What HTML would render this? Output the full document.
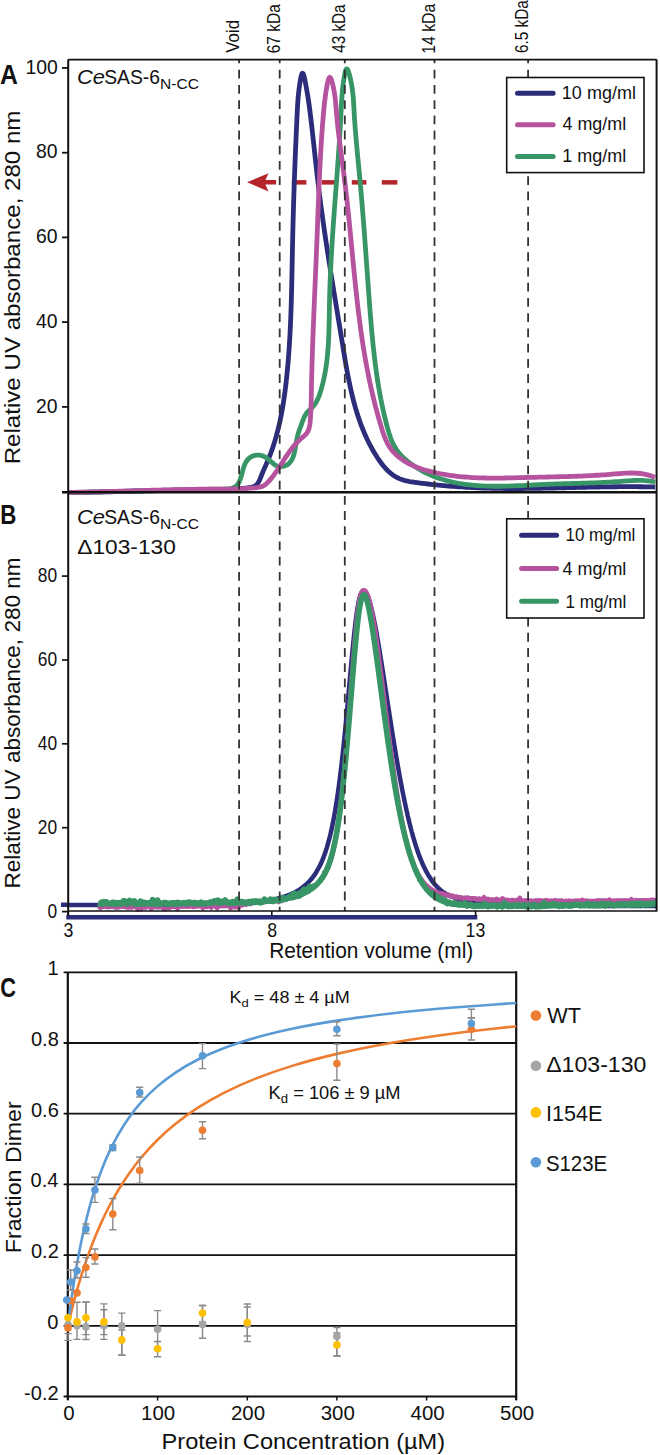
<!DOCTYPE html><html><head><meta charset="utf-8"><style>html,body{margin:0;padding:0;background:#fff;width:660px;height:1455px;overflow:hidden}svg{display:block}</style></head><body>
<svg width="660" height="1455" viewBox="0 0 660 1455">
<rect width="660" height="1455" fill="#fff"/>
<path d="M247,182.3 L268.6,173.2 L265.4,180.1 L276.1,180.1 L276.1,184.6 L265.4,184.6 L268.6,191.4 Z" fill="#b3252b"/>
<rect x="291.8" y="180.1" width="14.6" height="4.5" fill="#b3252b"/>
<rect x="321.8" y="180.1" width="14.6" height="4.5" fill="#b3252b"/>
<rect x="351.8" y="180.1" width="14.6" height="4.5" fill="#b3252b"/>
<rect x="381.8" y="180.1" width="15.5" height="4.5" fill="#b3252b"/>
<g fill="none" stroke-linejoin="round" stroke-linecap="butt" stroke-width="4.8">
<path d="M68.00,492.60 L70.58,492.56 L73.17,492.53 L75.75,492.49 L78.34,492.45 L80.92,492.40 L83.50,492.36 L86.09,492.31 L88.67,492.26 L91.25,492.21 L93.83,492.16 L96.41,492.11 L98.99,492.05 L101.57,491.99 L104.15,491.94 L106.73,491.88 L109.31,491.82 L111.89,491.76 L114.47,491.70 L117.05,491.64 L119.63,491.57 L122.21,491.51 L124.79,491.45 L127.37,491.38 L129.94,491.32 L132.52,491.25 L135.10,491.19 L137.68,491.13 L140.26,491.06 L142.84,491.00 L145.42,490.93 L148.00,490.87 L150.57,490.81 L153.15,490.74 L155.73,490.68 L158.31,490.62 L160.89,490.56 L163.47,490.50 L166.05,490.44 L168.63,490.38 L171.21,490.33 L173.79,490.27 L176.37,490.22 L178.96,490.17 L181.54,490.11 L184.12,490.07 L186.70,490.02 L189.28,489.97 L191.87,489.93 L194.45,489.89 L197.04,489.85 L199.62,489.81 L202.21,489.77 L204.79,489.74 L207.38,489.71 L209.96,489.68 L212.55,489.66 L215.14,489.63 L217.73,489.60 L220.32,489.56 L222.90,489.51 L225.49,489.45 L228.08,489.37 L230.67,489.27 L233.26,489.14 L235.85,488.99 L238.43,488.81 L241.02,488.59 L243.61,488.34 L246.19,488.04 L248.78,487.70 L251.35,487.31 L253.77,486.67 L255.77,485.50 L257.40,483.83 L258.73,481.78 L259.85,479.46 L260.85,476.99 L261.82,474.48 L262.82,472.02 L263.85,469.61 L264.91,467.23 L265.96,464.88 L266.99,462.53 L268.00,460.17 L268.97,457.80 L269.91,455.42 L270.82,453.02 L271.70,450.61 L272.54,448.19 L273.36,445.76 L274.15,443.31 L274.90,440.86 L275.63,438.40 L276.34,435.92 L277.01,433.44 L277.66,430.95 L278.29,428.45 L278.89,425.94 L279.47,423.43 L280.02,420.91 L280.55,418.38 L281.07,415.85 L281.56,413.31 L282.03,410.76 L282.48,408.21 L282.91,405.66 L283.32,403.10 L283.72,400.54 L284.10,397.97 L284.47,395.40 L284.82,392.83 L285.16,390.26 L285.48,387.69 L285.79,385.12 L286.09,382.54 L286.37,379.97 L286.65,377.39 L286.91,374.82 L287.17,372.25 L287.42,369.68 L287.65,367.11 L287.88,364.54 L288.10,361.97 L288.31,359.40 L288.52,356.83 L288.71,354.26 L288.90,351.70 L289.08,349.13 L289.25,346.56 L289.42,344.00 L289.57,341.43 L289.73,338.87 L289.87,336.30 L290.01,333.74 L290.14,331.17 L290.27,328.61 L290.39,326.04 L290.50,323.48 L290.61,320.91 L290.72,318.35 L290.82,315.78 L290.91,313.21 L291.01,310.65 L291.09,308.08 L291.18,305.51 L291.26,302.94 L291.33,300.37 L291.40,297.80 L291.47,295.23 L291.54,292.66 L291.60,290.09 L291.67,287.52 L291.73,284.95 L291.78,282.37 L291.84,279.79 L291.89,277.22 L291.95,274.64 L292.00,272.06 L292.05,269.48 L292.10,266.90 L292.15,264.32 L292.20,261.73 L292.25,259.15 L292.30,256.56 L292.35,253.97 L292.40,251.38 L292.45,248.79 L292.51,246.19 L292.56,243.60 L292.62,241.00 L292.67,238.40 L292.73,235.80 L292.79,233.20 L292.86,230.59 L292.92,227.99 L292.99,225.38 L293.05,222.77 L293.12,220.17 L293.19,217.56 L293.27,214.95 L293.34,212.34 L293.42,209.73 L293.49,207.12 L293.57,204.52 L293.65,201.91 L293.73,199.30 L293.81,196.70 L293.90,194.09 L293.98,191.49 L294.07,188.89 L294.16,186.29 L294.25,183.69 L294.34,181.10 L294.43,178.51 L294.53,175.92 L294.62,173.33 L294.72,170.74 L294.81,168.16 L294.91,165.58 L295.01,163.01 L295.11,160.44 L295.21,157.87 L295.32,155.31 L295.42,152.75 L295.53,150.19 L295.63,147.64 L295.74,145.09 L295.85,142.55 L295.96,140.02 L296.07,137.49 L296.18,134.96 L296.29,132.44 L296.40,129.93 L296.52,127.42 L296.63,124.92 L296.75,122.42 L296.86,119.93 L296.98,117.45 L297.10,114.98 L297.22,112.51 L297.34,110.05 L297.47,107.57 L297.61,105.08 L297.77,102.55 L297.96,99.96 L298.18,97.31 L298.44,94.57 L298.74,91.73 L299.09,88.79 L299.51,85.71 L299.98,82.50 L300.53,79.24 L301.13,76.32 L301.77,74.16 L302.45,73.17 L303.15,73.71 L303.87,75.60 L304.57,78.40 L305.24,81.67 L305.86,85.00 L306.43,88.13 L306.95,91.07 L307.42,93.85 L307.85,96.48 L308.25,99.00 L308.61,101.42 L308.95,103.77 L309.27,106.07 L309.58,108.35 L309.87,110.63 L310.16,112.92 L310.45,115.25 L310.73,117.61 L311.02,120.01 L311.30,122.43 L311.59,124.88 L311.87,127.35 L312.15,129.85 L312.43,132.37 L312.72,134.92 L313.00,137.48 L313.28,140.06 L313.56,142.66 L313.85,145.27 L314.13,147.90 L314.42,150.53 L314.71,153.18 L314.99,155.84 L315.28,158.50 L315.58,161.17 L315.87,163.84 L316.17,166.52 L316.47,169.19 L316.77,171.87 L317.07,174.54 L317.38,177.21 L317.69,179.87 L318.01,182.53 L318.33,185.18 L318.65,187.82 L318.97,190.45 L319.30,193.08 L319.63,195.70 L319.97,198.32 L320.31,200.93 L320.65,203.53 L320.99,206.13 L321.34,208.72 L321.69,211.31 L322.04,213.89 L322.39,216.47 L322.75,219.04 L323.11,221.61 L323.47,224.17 L323.84,226.73 L324.21,229.28 L324.58,231.83 L324.95,234.38 L325.32,236.92 L325.70,239.46 L326.08,242.00 L326.46,244.53 L326.84,247.06 L327.23,249.59 L327.62,252.12 L328.01,254.64 L328.40,257.16 L328.79,259.68 L329.18,262.20 L329.58,264.71 L329.97,267.23 L330.37,269.74 L330.77,272.25 L331.17,274.76 L331.58,277.27 L331.98,279.78 L332.39,282.29 L332.79,284.80 L333.20,287.31 L333.61,289.82 L334.02,292.33 L334.43,294.84 L334.84,297.35 L335.25,299.87 L335.66,302.38 L336.07,304.89 L336.49,307.41 L336.90,309.93 L337.31,312.45 L337.73,314.97 L338.14,317.49 L338.56,320.02 L338.97,322.55 L339.39,325.08 L339.81,327.61 L340.22,330.15 L340.64,332.69 L341.05,335.24 L341.47,337.78 L341.88,340.34 L342.30,342.89 L342.71,345.45 L343.13,348.01 L343.55,350.58 L343.97,353.15 L344.40,355.71 L344.83,358.28 L345.27,360.85 L345.71,363.42 L346.16,365.99 L346.62,368.56 L347.09,371.13 L347.57,373.69 L348.06,376.25 L348.56,378.81 L349.07,381.36 L349.60,383.91 L350.15,386.46 L350.70,389.00 L351.28,391.53 L351.87,394.06 L352.48,396.58 L353.11,399.09 L353.76,401.60 L354.43,404.10 L355.13,406.58 L355.84,409.06 L356.58,411.53 L357.34,413.99 L358.13,416.43 L358.94,418.87 L359.78,421.29 L360.65,423.70 L361.55,426.10 L362.48,428.48 L363.44,430.85 L364.43,433.21 L365.45,435.54 L366.50,437.87 L367.59,440.17 L368.72,442.46 L369.88,444.74 L371.07,446.99 L372.31,449.23 L373.58,451.45 L374.89,453.64 L376.25,455.82 L377.64,457.98 L379.08,460.11 L380.56,462.21 L382.10,464.26 L383.70,466.25 L385.37,468.17 L387.10,470.01 L388.91,471.76 L390.81,473.39 L392.79,474.91 L394.87,476.30 L397.04,477.54 L399.32,478.63 L401.71,479.55 L404.19,480.32 L406.75,480.97 L409.37,481.52 L412.03,481.97 L414.72,482.37 L417.42,482.73 L420.11,483.06 L422.79,483.39 L425.45,483.70 L428.10,484.00 L430.74,484.29 L433.37,484.58 L435.98,484.85 L438.59,485.11 L441.19,485.35 L443.78,485.59 L446.36,485.82 L448.93,486.04 L451.50,486.25 L454.06,486.45 L456.62,486.63 L459.17,486.81 L461.72,486.98 L464.27,487.14 L466.82,487.29 L469.36,487.43 L471.90,487.56 L474.45,487.68 L476.99,487.79 L479.54,487.90 L482.09,487.99 L484.64,488.08 L487.20,488.15 L489.75,488.22 L492.31,488.28 L494.87,488.34 L497.44,488.38 L500.00,488.42 L502.57,488.45 L505.14,488.48 L507.71,488.50 L510.28,488.51 L512.86,488.51 L515.43,488.51 L518.01,488.51 L520.59,488.50 L523.17,488.48 L525.75,488.46 L528.33,488.44 L530.92,488.41 L533.50,488.38 L536.09,488.34 L538.68,488.30 L541.27,488.26 L543.86,488.21 L546.45,488.16 L549.04,488.11 L551.63,488.06 L554.22,488.00 L556.82,487.94 L559.41,487.88 L562.00,487.82 L564.60,487.76 L567.19,487.70 L569.78,487.64 L572.38,487.58 L574.97,487.52 L577.57,487.46 L580.16,487.39 L582.75,487.33 L585.35,487.27 L587.94,487.22 L590.53,487.16 L593.13,487.11 L595.72,487.05 L598.31,487.00 L600.90,486.96 L603.49,486.91 L606.08,486.87 L608.66,486.83 L611.25,486.80 L613.84,486.77 L616.42,486.74 L619.00,486.72 L621.58,486.70 L624.16,486.69 L626.74,486.68 L629.32,486.68 L631.90,486.68 L634.47,486.69 L637.04,486.71 L639.61,486.73 L642.18,486.76 L644.75,486.79 L647.31,486.84 L649.88,486.89 L652.44,486.94 L655.00,487.01" stroke="#2b2c7a"/>
<path d="M68.00,492.60 L70.63,492.54 L73.27,492.49 L75.90,492.43 L78.53,492.37 L81.16,492.31 L83.78,492.25 L86.40,492.19 L89.02,492.13 L91.64,492.07 L94.25,492.00 L96.86,491.94 L99.48,491.88 L102.09,491.81 L104.69,491.75 L107.30,491.68 L109.91,491.62 L112.51,491.55 L115.12,491.49 L117.72,491.42 L120.32,491.35 L122.92,491.28 L125.52,491.22 L128.13,491.15 L130.73,491.08 L133.33,491.02 L135.93,490.95 L138.53,490.88 L141.13,490.82 L143.73,490.75 L146.33,490.68 L148.94,490.62 L151.54,490.55 L154.14,490.48 L156.75,490.42 L159.36,490.35 L161.96,490.29 L164.57,490.23 L167.18,490.16 L169.80,490.10 L172.41,490.04 L175.03,489.98 L177.65,489.92 L180.27,489.86 L182.89,489.80 L185.52,489.74 L188.14,489.68 L190.77,489.62 L193.41,489.57 L196.05,489.51 L198.68,489.46 L201.33,489.41 L203.97,489.35 L206.62,489.30 L209.28,489.26 L211.93,489.21 L214.59,489.16 L217.26,489.12 L219.93,489.07 L222.60,489.03 L225.27,488.97 L227.87,488.83 L230.36,488.51 L232.67,487.96 L234.74,487.07 L236.52,485.77 L237.98,484.03 L239.17,481.92 L240.16,479.50 L241.02,476.87 L241.80,474.10 L242.56,471.26 L243.37,468.44 L244.29,465.71 L245.38,463.15 L246.71,460.85 L248.34,458.87 L250.30,457.28 L252.53,456.11 L254.95,455.36 L257.50,455.06 L260.08,455.22 L262.62,455.85 L265.05,456.97 L267.32,458.52 L269.49,460.33 L271.61,462.21 L273.73,463.96 L275.90,465.41 L278.19,466.36 L280.58,466.70 L283.00,466.47 L285.34,465.75 L287.50,464.58 L289.38,463.04 L290.93,461.19 L292.20,459.06 L293.21,456.70 L294.03,454.16 L294.68,451.48 L295.23,448.71 L295.70,445.90 L296.14,443.09 L296.60,440.32 L297.12,437.65 L297.75,435.10 L298.48,432.68 L299.28,430.34 L300.13,428.01 L301.00,425.66 L301.86,423.24 L302.73,420.76 L303.70,418.28 L304.84,415.89 L306.23,413.65 L307.93,411.63 L309.84,409.76 L311.77,407.92 L313.52,405.97 L315.06,403.89 L316.41,401.70 L317.59,399.41 L318.63,397.03 L319.55,394.60 L320.38,392.13 L321.14,389.63 L321.85,387.11 L322.51,384.60 L323.14,382.07 L323.72,379.53 L324.26,376.99 L324.76,374.45 L325.23,371.89 L325.66,369.33 L326.06,366.76 L326.43,364.19 L326.76,361.61 L327.07,359.03 L327.35,356.44 L327.60,353.85 L327.83,351.25 L328.04,348.65 L328.22,346.05 L328.39,343.44 L328.53,340.82 L328.66,338.21 L328.78,335.59 L328.88,332.97 L328.96,330.35 L329.04,327.72 L329.11,325.09 L329.17,322.46 L329.22,319.83 L329.27,317.20 L329.31,314.57 L329.36,311.94 L329.40,309.30 L329.44,306.67 L329.49,304.04 L329.54,301.41 L329.60,298.77 L329.66,296.14 L329.73,293.51 L329.81,290.89 L329.89,288.26 L329.98,285.63 L330.07,283.00 L330.17,280.38 L330.28,277.75 L330.39,275.13 L330.50,272.51 L330.62,269.89 L330.75,267.27 L330.87,264.64 L331.01,262.03 L331.15,259.41 L331.29,256.79 L331.44,254.17 L331.59,251.56 L331.74,248.94 L331.90,246.33 L332.06,243.71 L332.22,241.10 L332.39,238.49 L332.56,235.88 L332.73,233.27 L332.91,230.66 L333.09,228.05 L333.27,225.44 L333.45,222.83 L333.64,220.22 L333.82,217.62 L334.01,215.01 L334.20,212.41 L334.39,209.80 L334.58,207.20 L334.78,204.60 L334.97,201.99 L335.16,199.39 L335.36,196.79 L335.56,194.19 L335.75,191.59 L335.95,189.00 L336.14,186.40 L336.34,183.80 L336.54,181.20 L336.73,178.61 L336.92,176.01 L337.12,173.42 L337.31,170.82 L337.50,168.23 L337.69,165.64 L337.88,163.04 L338.07,160.45 L338.25,157.86 L338.44,155.27 L338.62,152.68 L338.80,150.09 L338.97,147.50 L339.15,144.91 L339.32,142.33 L339.49,139.74 L339.65,137.15 L339.81,134.57 L339.97,131.98 L340.13,129.39 L340.28,126.81 L340.43,124.23 L340.57,121.64 L340.71,119.06 L340.84,116.48 L340.97,113.89 L341.10,111.31 L341.22,108.73 L341.35,106.14 L341.49,103.53 L341.64,100.91 L341.80,98.26 L342.00,95.58 L342.22,92.86 L342.48,90.10 L342.78,87.29 L343.13,84.43 L343.52,81.50 L343.98,78.52 L344.50,75.46 L345.08,72.52 L345.74,70.16 L346.47,68.86 L347.28,69.05 L348.15,70.67 L349.01,73.25 L349.82,76.30 L350.55,79.38 L351.17,82.36 L351.71,85.26 L352.16,88.08 L352.54,90.83 L352.86,93.51 L353.13,96.14 L353.35,98.73 L353.53,101.29 L353.69,103.82 L353.83,106.33 L353.96,108.83 L354.09,111.33 L354.22,113.84 L354.37,116.37 L354.53,118.90 L354.71,121.45 L354.89,124.00 L355.08,126.57 L355.27,129.14 L355.48,131.72 L355.69,134.31 L355.91,136.91 L356.14,139.51 L356.37,142.12 L356.61,144.74 L356.85,147.36 L357.10,149.98 L357.34,152.61 L357.59,155.24 L357.85,157.87 L358.10,160.51 L358.36,163.15 L358.61,165.78 L358.87,168.42 L359.12,171.06 L359.37,173.70 L359.62,176.33 L359.87,178.97 L360.11,181.60 L360.36,184.23 L360.59,186.86 L360.83,189.48 L361.06,192.10 L361.29,194.72 L361.51,197.34 L361.73,199.96 L361.95,202.57 L362.17,205.18 L362.38,207.79 L362.59,210.40 L362.80,213.01 L363.01,215.61 L363.22,218.22 L363.42,220.82 L363.62,223.42 L363.82,226.02 L364.02,228.62 L364.22,231.22 L364.41,233.82 L364.61,236.41 L364.80,239.01 L364.99,241.61 L365.18,244.20 L365.37,246.80 L365.56,249.39 L365.75,251.98 L365.93,254.58 L366.12,257.17 L366.31,259.77 L366.49,262.36 L366.68,264.96 L366.87,267.55 L367.05,270.15 L367.24,272.74 L367.43,275.34 L367.61,277.94 L367.80,280.53 L367.99,283.13 L368.18,285.73 L368.37,288.33 L368.56,290.94 L368.75,293.54 L368.95,296.15 L369.14,298.75 L369.34,301.36 L369.53,303.97 L369.73,306.58 L369.93,309.19 L370.14,311.81 L370.34,314.42 L370.56,317.04 L370.77,319.65 L370.99,322.27 L371.21,324.88 L371.44,327.50 L371.67,330.12 L371.91,332.73 L372.15,335.35 L372.40,337.96 L372.65,340.58 L372.91,343.19 L373.18,345.80 L373.46,348.41 L373.74,351.02 L374.04,353.63 L374.34,356.24 L374.64,358.85 L374.96,361.45 L375.29,364.05 L375.63,366.65 L375.97,369.25 L376.33,371.84 L376.70,374.43 L377.08,377.02 L377.47,379.61 L377.87,382.19 L378.29,384.77 L378.71,387.35 L379.15,389.92 L379.60,392.49 L380.07,395.05 L380.55,397.61 L381.04,400.17 L381.55,402.72 L382.08,405.27 L382.61,407.81 L383.17,410.35 L383.74,412.88 L384.32,415.41 L384.92,417.93 L385.54,420.45 L386.18,422.96 L386.83,425.47 L387.50,427.97 L388.20,430.45 L388.95,432.92 L389.74,435.37 L390.60,437.79 L391.53,440.17 L392.55,442.52 L393.66,444.82 L394.88,447.07 L396.22,449.26 L397.69,451.39 L399.31,453.46 L401.07,455.45 L402.99,457.36 L405.02,459.20 L407.15,460.97 L409.34,462.66 L411.56,464.27 L413.81,465.82 L416.08,467.29 L418.36,468.70 L420.66,470.04 L422.98,471.31 L425.31,472.52 L427.66,473.66 L430.03,474.74 L432.41,475.77 L434.81,476.73 L437.22,477.64 L439.65,478.49 L442.09,479.29 L444.54,480.03 L447.00,480.73 L449.48,481.37 L451.97,481.97 L454.47,482.52 L456.98,483.02 L459.50,483.49 L462.04,483.91 L464.58,484.29 L467.13,484.63 L469.69,484.93 L472.25,485.20 L474.83,485.44 L477.41,485.64 L480.00,485.81 L482.60,485.95 L485.20,486.06 L487.81,486.15 L490.42,486.21 L493.04,486.24 L495.66,486.26 L498.29,486.25 L500.92,486.23 L503.55,486.19 L506.18,486.13 L508.82,486.05 L511.46,485.97 L514.10,485.87 L516.74,485.76 L519.38,485.65 L522.02,485.53 L524.66,485.40 L527.30,485.27 L529.94,485.13 L532.57,485.00 L535.21,484.86 L537.84,484.73 L540.46,484.60 L543.09,484.48 L545.71,484.36 L548.32,484.25 L550.93,484.15 L553.54,484.05 L556.15,483.96 L558.75,483.88 L561.34,483.80 L563.94,483.72 L566.53,483.64 L569.13,483.57 L571.72,483.50 L574.31,483.43 L576.90,483.36 L579.48,483.28 L582.07,483.21 L584.66,483.13 L587.25,483.05 L589.84,482.97 L592.43,482.88 L595.03,482.78 L597.62,482.68 L600.22,482.57 L602.82,482.46 L605.43,482.33 L608.03,482.20 L610.65,482.06 L613.26,481.91 L615.88,481.74 L618.50,481.56 L621.13,481.38 L623.77,481.18 L626.40,480.98 L629.04,480.80 L631.67,480.64 L634.30,480.52 L636.93,480.44 L639.55,480.41 L642.16,480.45 L644.76,480.57 L647.34,480.77 L649.91,481.07 L652.46,481.47 L655.00,481.99" stroke="#379566"/>
<path d="M68.00,492.40 L70.55,492.36 L73.11,492.32 L75.66,492.28 L78.22,492.23 L80.77,492.19 L83.32,492.14 L85.88,492.08 L88.43,492.03 L90.98,491.97 L93.53,491.91 L96.08,491.85 L98.63,491.78 L101.18,491.72 L103.73,491.65 L106.28,491.58 L108.83,491.51 L111.38,491.44 L113.93,491.37 L116.48,491.30 L119.03,491.22 L121.57,491.15 L124.12,491.08 L126.67,491.00 L129.22,490.92 L131.77,490.85 L134.31,490.77 L136.86,490.70 L139.41,490.62 L141.96,490.55 L144.51,490.47 L147.05,490.40 L149.60,490.33 L152.15,490.26 L154.70,490.18 L157.25,490.11 L159.80,490.05 L162.35,489.98 L164.90,489.91 L167.44,489.85 L169.99,489.79 L172.54,489.73 L175.10,489.67 L177.65,489.62 L180.20,489.56 L182.75,489.51 L185.30,489.46 L187.85,489.42 L190.41,489.38 L192.96,489.34 L195.51,489.30 L198.07,489.27 L200.62,489.24 L203.18,489.22 L205.73,489.19 L208.29,489.18 L210.85,489.16 L213.41,489.15 L215.97,489.14 L218.52,489.13 L221.08,489.12 L223.64,489.10 L226.20,489.08 L228.75,489.04 L231.31,489.00 L233.86,488.95 L236.42,488.88 L238.97,488.79 L241.52,488.68 L244.07,488.56 L246.61,488.41 L249.15,488.23 L251.69,488.03 L254.23,487.80 L256.76,487.54 L259.27,487.19 L261.68,486.61 L263.93,485.63 L265.96,484.15 L267.81,482.33 L269.57,480.39 L271.25,478.40 L272.86,476.36 L274.41,474.29 L275.91,472.18 L277.37,470.05 L278.79,467.90 L280.20,465.75 L281.58,463.59 L282.96,461.44 L284.34,459.30 L285.72,457.17 L287.12,455.07 L288.54,453.00 L289.99,450.97 L291.47,448.98 L293.00,447.04 L294.58,445.14 L296.22,443.30 L297.93,441.51 L299.73,439.77 L301.61,438.08 L303.58,436.44 L305.49,434.75 L307.04,432.85 L308.19,430.71 L309.02,428.39 L309.58,425.92 L309.96,423.36 L310.22,420.76 L310.43,418.15 L310.60,415.55 L310.76,412.96 L310.88,410.38 L310.99,407.80 L311.08,405.24 L311.16,402.67 L311.22,400.12 L311.27,397.56 L311.32,395.01 L311.37,392.46 L311.41,389.92 L311.46,387.37 L311.51,384.82 L311.57,382.27 L311.63,379.73 L311.69,377.18 L311.75,374.63 L311.81,372.09 L311.88,369.54 L311.95,366.99 L312.02,364.44 L312.10,361.90 L312.18,359.35 L312.25,356.80 L312.34,354.26 L312.42,351.71 L312.50,349.16 L312.59,346.62 L312.68,344.07 L312.77,341.52 L312.86,338.97 L312.96,336.43 L313.05,333.88 L313.15,331.33 L313.25,328.79 L313.35,326.24 L313.45,323.69 L313.55,321.14 L313.65,318.60 L313.75,316.05 L313.86,313.50 L313.96,310.95 L314.07,308.41 L314.18,305.86 L314.29,303.31 L314.39,300.76 L314.50,298.21 L314.61,295.66 L314.72,293.12 L314.83,290.57 L314.94,288.02 L315.05,285.47 L315.16,282.92 L315.27,280.37 L315.38,277.82 L315.49,275.27 L315.60,272.72 L315.71,270.17 L315.82,267.62 L315.93,265.07 L316.04,262.52 L316.15,259.97 L316.25,257.42 L316.36,254.87 L316.47,252.32 L316.57,249.76 L316.67,247.21 L316.78,244.66 L316.88,242.11 L316.98,239.55 L317.08,237.00 L317.18,234.45 L317.28,231.90 L317.37,229.34 L317.47,226.79 L317.56,224.23 L317.66,221.68 L317.76,219.13 L317.85,216.57 L317.95,214.02 L318.04,211.47 L318.14,208.91 L318.24,206.36 L318.33,203.81 L318.43,201.26 L318.53,198.70 L318.63,196.15 L318.74,193.60 L318.84,191.05 L318.95,188.50 L319.05,185.95 L319.16,183.40 L319.27,180.85 L319.39,178.31 L319.50,175.76 L319.62,173.21 L319.74,170.67 L319.86,168.12 L319.99,165.58 L320.12,163.03 L320.25,160.49 L320.39,157.95 L320.53,155.41 L320.67,152.87 L320.82,150.33 L320.97,147.79 L321.12,145.26 L321.28,142.72 L321.44,140.19 L321.61,137.66 L321.79,135.12 L321.96,132.59 L322.14,130.07 L322.33,127.54 L322.52,125.01 L322.72,122.49 L322.93,119.97 L323.13,117.44 L323.35,114.93 L323.57,112.41 L323.80,109.89 L324.04,107.36 L324.29,104.82 L324.57,102.24 L324.88,99.63 L325.22,96.96 L325.61,94.23 L326.03,91.42 L326.51,88.53 L327.05,85.54 L327.65,82.54 L328.31,79.87 L329.03,77.96 L329.80,77.23 L330.62,77.96 L331.45,79.86 L332.25,82.51 L332.99,85.51 L333.62,88.50 L334.16,91.38 L334.62,94.19 L335.00,96.92 L335.32,99.58 L335.59,102.20 L335.82,104.77 L336.03,107.32 L336.24,109.84 L336.44,112.35 L336.65,114.87 L336.88,117.38 L337.12,119.89 L337.37,122.40 L337.63,124.92 L337.90,127.43 L338.18,129.95 L338.47,132.46 L338.77,134.98 L339.07,137.49 L339.38,140.01 L339.70,142.53 L340.02,145.04 L340.34,147.56 L340.67,150.08 L341.00,152.60 L341.34,155.12 L341.67,157.64 L342.01,160.17 L342.35,162.69 L342.68,165.22 L343.02,167.74 L343.35,170.27 L343.68,172.80 L344.01,175.32 L344.33,177.85 L344.65,180.39 L344.96,182.92 L345.27,185.45 L345.57,187.99 L345.87,190.52 L346.16,193.06 L346.45,195.60 L346.73,198.13 L347.01,200.67 L347.29,203.21 L347.56,205.75 L347.83,208.29 L348.10,210.84 L348.37,213.38 L348.63,215.92 L348.89,218.47 L349.14,221.01 L349.40,223.56 L349.65,226.10 L349.90,228.65 L350.15,231.19 L350.40,233.74 L350.65,236.28 L350.89,238.83 L351.14,241.38 L351.38,243.92 L351.63,246.47 L351.87,249.02 L352.12,251.56 L352.36,254.11 L352.61,256.66 L352.85,259.20 L353.10,261.75 L353.35,264.29 L353.60,266.84 L353.85,269.38 L354.10,271.93 L354.35,274.47 L354.61,277.02 L354.87,279.56 L355.13,282.10 L355.40,284.64 L355.66,287.18 L355.93,289.72 L356.21,292.26 L356.48,294.80 L356.76,297.34 L357.05,299.88 L357.34,302.41 L357.63,304.95 L357.93,307.48 L358.23,310.01 L358.54,312.54 L358.85,315.07 L359.16,317.60 L359.49,320.13 L359.82,322.66 L360.15,325.18 L360.49,327.71 L360.84,330.23 L361.19,332.75 L361.55,335.27 L361.92,337.78 L362.29,340.30 L362.67,342.81 L363.06,345.33 L363.46,347.84 L363.87,350.35 L364.28,352.85 L364.70,355.36 L365.13,357.86 L365.57,360.36 L366.01,362.86 L366.47,365.36 L366.94,367.85 L367.41,370.34 L367.90,372.83 L368.39,375.32 L368.90,377.81 L369.41,380.29 L369.94,382.77 L370.47,385.25 L371.02,387.73 L371.58,390.20 L372.15,392.68 L372.73,395.16 L373.33,397.64 L373.93,400.12 L374.55,402.60 L375.18,405.09 L375.82,407.58 L376.48,410.07 L377.15,412.56 L377.84,415.06 L378.53,417.57 L379.24,420.08 L379.97,422.59 L380.71,425.12 L381.47,427.65 L382.25,430.17 L383.06,432.68 L383.93,435.16 L384.85,437.60 L385.84,439.98 L386.92,442.29 L388.10,444.52 L389.38,446.65 L390.77,448.68 L392.26,450.61 L393.86,452.45 L395.55,454.19 L397.33,455.84 L399.20,457.41 L401.15,458.89 L403.18,460.29 L405.27,461.61 L407.44,462.86 L409.66,464.03 L411.94,465.13 L414.27,466.17 L416.64,467.14 L419.06,468.05 L421.51,468.91 L423.99,469.71 L426.50,470.45 L429.02,471.15 L431.57,471.80 L434.12,472.41 L436.68,472.97 L439.24,473.50 L441.80,473.99 L444.36,474.45 L446.91,474.88 L449.46,475.27 L452.01,475.63 L454.56,475.96 L457.10,476.27 L459.64,476.54 L462.19,476.79 L464.72,477.01 L467.26,477.21 L469.80,477.39 L472.33,477.54 L474.87,477.67 L477.40,477.78 L479.93,477.88 L482.46,477.95 L484.99,478.01 L487.52,478.05 L490.05,478.08 L492.58,478.09 L495.11,478.09 L497.64,478.08 L500.17,478.06 L502.70,478.03 L505.23,477.99 L507.77,477.94 L510.30,477.89 L512.83,477.84 L515.37,477.78 L517.90,477.71 L520.44,477.65 L522.98,477.58 L525.52,477.52 L528.06,477.46 L530.60,477.39 L533.15,477.34 L535.69,477.28 L538.24,477.22 L540.79,477.17 L543.34,477.11 L545.89,477.06 L548.45,477.00 L551.00,476.95 L553.56,476.89 L556.12,476.83 L558.67,476.76 L561.23,476.70 L563.79,476.63 L566.35,476.56 L568.91,476.48 L571.47,476.40 L574.03,476.32 L576.60,476.23 L579.16,476.13 L581.72,476.03 L584.28,475.92 L586.85,475.81 L589.41,475.69 L591.97,475.55 L594.53,475.42 L597.09,475.27 L599.65,475.11 L602.22,474.95 L604.78,474.77 L607.34,474.58 L609.89,474.39 L612.45,474.18 L615.01,473.96 L617.56,473.74 L620.12,473.53 L622.66,473.35 L625.21,473.19 L627.75,473.08 L630.28,473.01 L632.80,473.01 L635.32,473.08 L637.82,473.24 L640.31,473.49 L642.80,473.84 L645.27,474.30 L647.72,474.89 L650.17,475.61 L652.59,476.47 L655.01,477.49" stroke="#b6539f"/>
</g>
<g fill="none" stroke-linejoin="round" stroke-linecap="butt">
<path d="M61.0,904.7 L65.4,904.8 L69.8,904.9 L74.2,904.9 L78.6,905.0 L82.9,905.0 L87.3,905.1 L91.7,905.1 L96.1,905.1 L100.5,905.2 L104.9,905.2 L109.3,905.3 L113.7,905.3 L118.1,905.3 L122.5,905.4 L126.8,905.4 L131.2,905.4 L135.6,905.4 L140.0,905.4 L144.4,905.4 L148.8,905.4 L153.2,905.5 L157.6,905.4 L162.0,905.4 L166.4,905.4 L170.7,905.4 L175.1,905.4 L179.5,905.4 L183.9,905.3 L188.3,905.3 L192.7,905.2 L197.1,905.1 L201.5,905.1 L205.9,905.0 L210.3,904.8 L214.6,904.7 L219.0,904.6 L223.4,904.4 L227.8,904.2 L232.2,904.0 L236.6,903.8 L241.0,903.5 L245.4,903.2 L249.8,902.8 L254.2,902.3 L258.5,901.8 L262.9,901.3 L267.3,900.6 L271.7,899.8 L276.1,898.9 L280.5,897.8 L284.9,896.4 L289.3,894.8 L293.7,892.9 L298.1,890.6 L302.4,887.6 L306.8,884.0 L311.2,879.3 L315.6,873.3 L320.0,865.5 L320.2,865.1 L320.4,864.6 L320.6,864.2 L320.8,863.8 L321.0,863.3 L321.2,862.9 L321.4,862.5 L321.6,862.0 L321.8,861.5 L322.0,861.1 L322.2,860.6 L322.4,860.1 L322.6,859.6 L322.8,859.1 L323.0,858.6 L323.2,858.1 L323.4,857.6 L323.6,857.1 L323.8,856.6 L324.0,856.0 L324.2,855.5 L324.4,854.9 L324.6,854.4 L324.8,853.8 L325.0,853.3 L325.2,852.7 L325.4,852.1 L325.6,851.5 L325.8,850.9 L326.0,850.3 L326.2,849.6 L326.4,849.0 L326.6,848.4 L326.8,847.7 L327.0,847.1 L327.2,846.4 L327.4,845.7 L327.6,845.0 L327.8,844.3 L328.0,843.6 L328.2,842.9 L328.4,842.2 L328.6,841.4 L328.8,840.7 L329.0,839.9 L329.2,839.2 L329.4,838.4 L329.6,837.6 L329.8,836.8 L330.0,836.0 L330.2,835.1 L330.4,834.3 L330.6,833.5 L330.8,832.6 L331.0,831.7 L331.2,830.8 L331.4,829.9 L331.6,829.0 L331.8,828.1 L332.0,827.2 L332.2,826.2 L332.4,825.2 L332.6,824.3 L332.8,823.3 L333.0,822.3 L333.2,821.2 L333.4,820.2 L333.6,819.2 L333.8,818.1 L334.0,817.0 L334.2,815.9 L334.4,814.8 L334.6,813.7 L334.8,812.6 L335.0,811.4 L335.2,810.2 L335.4,809.1 L335.6,807.9 L335.8,806.6 L336.0,805.4 L336.2,804.1 L336.4,802.9 L336.6,801.6 L336.8,800.3 L337.0,799.0 L337.2,797.6 L337.4,796.3 L337.6,794.9 L337.8,793.5 L338.0,792.1 L338.2,790.7 L338.4,789.3 L338.6,787.8 L338.8,786.3 L339.0,784.8 L339.2,783.3 L339.4,781.8 L339.6,780.2 L339.8,778.7 L340.0,777.1 L340.2,775.5 L340.4,773.9 L340.6,772.2 L340.8,770.6 L341.0,768.9 L341.2,767.2 L341.4,765.5 L341.6,763.7 L341.8,762.0 L342.0,760.2 L342.2,758.4 L342.4,756.6 L342.6,754.8 L342.8,752.9 L343.0,751.1 L343.2,749.2 L343.4,747.3 L343.6,745.4 L343.8,743.5 L344.0,741.5 L344.2,739.5 L344.4,737.6 L344.6,735.6 L344.8,733.6 L345.0,731.5 L345.2,729.5 L345.4,727.4 L345.6,725.4 L345.8,723.3 L346.0,721.2 L346.2,719.1 L346.4,717.0 L346.6,714.8 L346.8,712.7 L347.0,710.5 L347.2,708.4 L347.4,706.2 L347.6,704.0 L347.8,701.8 L348.0,699.7 L348.2,697.5 L348.4,695.3 L348.6,693.1 L348.8,690.8 L349.0,688.6 L349.2,686.4 L349.4,684.2 L349.6,682.0 L349.8,679.8 L350.0,677.6 L350.2,675.4 L350.4,673.2 L350.6,671.0 L350.8,668.8 L351.0,666.6 L351.2,664.5 L351.4,662.3 L351.6,660.2 L351.8,658.0 L352.0,655.9 L352.2,653.8 L352.4,651.7 L352.6,649.7 L352.8,647.6 L353.0,645.6 L353.2,643.6 L353.4,641.6 L353.6,639.7 L353.8,637.7 L354.0,635.8 L354.2,634.0 L354.4,632.1 L354.6,630.3 L354.8,628.5 L355.0,626.8 L355.2,625.1 L355.4,623.4 L355.6,621.8 L355.8,620.2 L356.0,618.6 L356.2,617.1 L356.4,615.6 L356.6,614.2 L356.8,612.8 L357.0,611.4 L357.2,610.1 L357.4,608.8 L357.6,607.6 L357.8,606.4 L358.0,605.3 L358.2,604.2 L358.4,603.1 L358.6,602.1 L358.8,601.2 L359.0,600.3 L359.2,599.4 L359.4,598.6 L359.6,597.8 L359.8,597.1 L360.0,596.4 L360.2,595.8 L360.4,595.2 L360.6,594.6 L360.8,594.1 L361.0,593.7 L361.2,593.2 L361.4,592.9 L361.6,592.5 L361.8,592.2 L362.0,592.0 L362.2,591.7 L362.4,591.5 L362.6,591.4 L362.8,591.2 L363.0,591.1 L363.2,591.1 L363.4,591.0 L363.6,591.0 L363.8,591.0 L364.0,591.0 L364.2,591.0 L364.4,591.1 L364.6,591.2 L364.8,591.3 L365.0,591.5 L365.2,591.7 L365.4,591.9 L365.6,592.1 L365.8,592.4 L366.0,592.7 L366.2,593.0 L366.4,593.3 L366.6,593.7 L366.8,594.1 L367.0,594.5 L367.2,594.9 L367.4,595.4 L367.6,595.8 L367.8,596.3 L368.0,596.8 L368.2,597.4 L368.4,597.9 L368.6,598.5 L368.8,599.1 L369.0,599.7 L369.2,600.3 L369.4,600.9 L369.6,601.6 L369.8,602.3 L370.0,602.9 L370.2,603.7 L370.4,604.4 L370.6,605.1 L370.8,605.9 L371.0,606.7 L371.2,607.4 L371.4,608.2 L371.6,609.1 L371.8,609.9 L372.0,610.7 L372.2,611.6 L372.4,612.5 L372.6,613.4 L372.8,614.3 L373.0,615.2 L373.2,616.1 L373.4,617.1 L373.6,618.0 L373.8,619.0 L374.0,619.9 L374.2,620.9 L374.4,621.9 L374.6,622.9 L374.8,624.0 L375.0,625.0 L375.2,626.0 L375.4,627.1 L375.6,628.2 L375.8,629.2 L376.0,630.3 L376.2,631.4 L376.4,632.5 L376.6,633.6 L376.8,634.7 L377.0,635.8 L377.2,637.0 L377.4,638.1 L377.6,639.3 L377.8,640.4 L378.0,641.6 L378.2,642.7 L378.4,643.9 L378.6,645.1 L378.8,646.3 L379.0,647.5 L379.2,648.7 L379.4,649.9 L379.6,651.1 L379.8,652.3 L380.0,653.6 L380.2,654.8 L380.4,656.0 L380.6,657.3 L380.8,658.5 L381.0,659.8 L381.2,661.0 L381.4,662.3 L381.6,663.5 L381.8,664.8 L382.0,666.1 L382.2,667.3 L382.4,668.6 L382.6,669.9 L382.8,671.2 L383.0,672.4 L383.2,673.7 L383.4,675.0 L383.6,676.3 L383.8,677.6 L384.0,678.9 L384.2,680.2 L384.4,681.5 L384.6,682.8 L384.8,684.1 L385.0,685.4 L385.2,686.7 L385.4,688.0 L385.6,689.3 L385.8,690.6 L386.0,691.9 L386.2,693.2 L386.4,694.5 L386.6,695.8 L386.8,697.1 L387.0,698.4 L387.2,699.7 L387.4,701.0 L387.6,702.3 L387.8,703.6 L388.0,704.9 L388.2,706.2 L388.4,707.5 L388.6,708.8 L388.8,710.1 L389.0,711.4 L389.2,712.7 L389.4,714.0 L389.6,715.3 L389.8,716.6 L390.0,717.9 L390.2,719.2 L390.4,720.4 L390.6,721.7 L390.8,723.0 L391.0,724.3 L391.2,725.5 L391.4,726.8 L391.6,728.1 L391.8,729.4 L392.0,730.6 L392.2,731.9 L392.4,733.1 L392.6,734.4 L392.8,735.6 L393.0,736.9 L393.2,738.1 L393.4,739.4 L393.6,740.6 L393.8,741.8 L394.0,743.1 L394.2,744.3 L394.4,745.5 L394.6,746.7 L394.8,747.9 L395.0,749.1 L395.2,750.4 L395.4,751.6 L395.6,752.8 L395.8,753.9 L396.0,755.1 L396.2,756.3 L396.4,757.5 L396.6,758.7 L396.8,759.8 L397.0,761.0 L397.2,762.2 L397.4,763.3 L397.6,764.5 L397.8,765.6 L398.0,766.8 L398.2,767.9 L398.4,769.0 L398.6,770.2 L398.8,771.3 L399.0,772.4 L399.2,773.5 L399.4,774.6 L399.6,775.7 L399.8,776.8 L400.0,777.9 L400.2,779.0 L400.4,780.1 L400.6,781.1 L400.8,782.2 L401.0,783.3 L401.2,784.3 L401.4,785.4 L401.6,786.4 L401.8,787.5 L402.0,788.5 L402.2,789.5 L402.4,790.5 L402.6,791.6 L402.8,792.6 L403.0,793.6 L403.2,794.6 L403.4,795.6 L403.6,796.6 L403.8,797.5 L404.0,798.5 L404.2,799.5 L404.4,800.5 L404.6,801.4 L404.8,802.4 L405.0,803.3 L405.2,804.3 L405.4,805.2 L405.6,806.1 L405.8,807.1 L406.0,808.0 L406.2,808.9 L406.4,809.8 L406.6,810.7 L406.8,811.6 L407.0,812.5 L407.2,813.4 L407.4,814.2 L407.6,815.1 L407.8,816.0 L408.0,816.8 L408.2,817.7 L408.4,818.5 L408.6,819.4 L408.8,820.2 L409.0,821.0 L409.2,821.8 L409.4,822.7 L409.6,823.5 L409.8,824.3 L410.0,825.1 L410.2,825.9 L410.4,826.6 L410.6,827.4 L410.8,828.2 L411.0,829.0 L411.2,829.7 L411.4,830.5 L411.6,831.2 L411.8,832.0 L412.0,832.7 L412.2,833.4 L412.4,834.2 L412.6,834.9 L412.8,835.6 L413.0,836.3 L413.2,837.0 L413.4,837.7 L413.6,838.4 L413.8,839.1 L414.0,839.8 L414.2,840.5 L414.4,841.1 L414.6,841.8 L414.8,842.5 L415.0,843.1 L415.2,843.7 L415.4,844.4 L415.6,845.0 L415.8,845.7 L416.0,846.3 L416.2,846.9 L416.4,847.5 L416.6,848.1 L416.8,848.7 L417.0,849.3 L417.2,849.9 L417.4,850.5 L417.6,851.1 L417.8,851.7 L418.0,852.2 L418.2,852.8 L418.4,853.4 L418.6,853.9 L418.8,854.5 L419.0,855.0 L419.2,855.6 L419.4,856.1 L419.6,856.6 L419.8,857.1 L420.0,857.7 L420.2,858.2 L423.2,865.3 L426.2,871.4 L429.2,876.6 L432.1,881.0 L435.1,884.8 L438.1,887.9 L441.1,890.5 L444.1,892.7 L447.1,894.4 L450.0,895.9 L453.0,897.2 L456.0,898.2 L459.0,899.1 L462.0,899.8 L465.0,900.4 L468.0,900.9 L470.9,901.3 L473.9,901.7 L476.9,902.1 L479.9,902.4 L482.9,902.6 L485.9,902.9 L488.9,903.1 L491.8,903.3 L494.8,903.5 L497.8,903.7 L500.8,903.8 L503.8,904.0 L506.8,904.1 L509.7,904.2 L512.7,904.4 L515.7,904.5 L518.7,904.6 L521.7,904.7 L524.7,904.8 L527.7,904.9 L530.6,905.0 L533.6,905.0 L536.6,905.1 L539.6,905.2 L542.6,905.2 L545.6,905.3 L548.5,905.4 L551.5,905.4 L554.5,905.5 L557.5,905.5 L560.5,905.6 L563.5,905.6 L566.5,905.6 L569.4,905.7 L572.4,905.7 L575.4,905.7 L578.4,905.8 L581.4,905.8 L584.4,905.8 L587.3,905.9 L590.3,905.9 L593.3,905.9 L596.3,905.9 L599.3,905.9 L602.3,905.9 L605.3,906.0 L608.2,906.0 L611.2,906.0 L614.2,906.0 L617.2,906.0 L620.2,906.0 L623.2,906.0 L626.2,906.0 L629.1,906.0 L632.1,906.0 L635.1,906.0 L638.1,906.0 L641.1,906.0 L644.1,906.0 L647.0,906.0 L650.0,906.0 L653.0,906.0 L656.0,906.0" stroke="#2b2c7a" stroke-width="4.5"/>
<path d="M66.3,917.3 H477.3" stroke="#2b2c7a" stroke-width="4.6"/>
<path d="M97.8,906.6 L99.0,906.8 L100.2,908.2 L101.4,907.5 L102.6,906.6 L103.8,907.0 L105.1,907.0 L106.3,906.5 L107.5,907.5 L108.7,907.3 L109.9,906.4 L111.1,907.1 L112.3,906.3 L113.5,907.0 L114.7,907.5 L115.9,907.6 L117.1,907.4 L118.3,907.6 L119.6,906.4 L120.8,906.6 L122.0,906.9 L123.2,906.7 L124.4,906.8 L125.6,907.1 L126.8,907.6 L128.0,907.6 L129.2,907.7 L130.4,906.5 L131.6,907.7 L132.9,907.1 L134.1,906.6 L135.3,907.1 L136.5,906.4 L137.7,909.9 L138.9,906.9 L140.1,906.7 L141.3,909.4 L142.5,906.4 L143.7,906.8 L144.9,907.7 L146.2,907.7 L147.4,906.4 L148.6,906.3 L149.8,906.9 L151.0,908.8 L152.2,906.7 L153.4,907.6 L154.6,906.9 L155.8,907.2 L157.0,907.1 L158.2,907.6 L159.4,906.9 L160.7,906.6 L161.9,907.7 L163.1,908.7 L164.3,909.0 L165.5,909.1 L166.7,907.0 L167.9,906.8 L169.1,908.4 L170.3,907.2 L171.5,906.7 L172.7,907.1 L174.0,906.8 L175.2,906.8 L176.4,906.7 L177.6,909.2 L178.8,907.3 L180.0,906.6 L181.2,906.6 L182.4,906.9 L183.6,906.4 L184.8,906.7 L186.0,906.8 L187.2,906.4 L188.4,907.0 L189.6,906.7 L190.8,906.3 L192.0,906.3 L193.2,907.2 L194.4,906.4 L195.6,906.9 L196.8,906.4 L198.0,906.3 L199.2,906.3 L200.4,906.5 L201.6,906.4 L202.8,908.5 L204.0,907.1 L205.2,906.4 L206.4,907.1 L207.6,906.8 L208.8,906.7 L210.0,906.1 L211.2,907.9 L212.4,906.1 L213.6,905.7 L214.8,906.6 L216.0,906.8 L217.2,908.5 L218.4,905.8 L219.6,906.4 L220.8,906.1 L222.0,906.3 L223.2,905.8 L224.4,906.1 L225.6,905.9 L226.8,906.1 L228.0,905.6 L229.2,906.6 L230.4,908.4 L231.6,907.9 L232.8,905.6 L234.0,905.8 L235.2,907.4 L236.4,905.3 L237.6,905.2 L238.8,908.1 L240.0,905.5 L241.2,905.4 L242.4,905.4 L243.7,904.7 L244.9,904.3 L246.1,904.9 L247.3,903.8 L248.6,904.0 L249.8,904.3 L251.0,904.1 L252.2,903.3 L253.4,903.2 L254.7,902.8 L255.9,902.6 L257.1,902.5 L258.3,901.6 L259.6,901.9 L260.8,902.4 L262.0,902.1 L263.2,901.0 L264.4,900.7 L265.6,901.3 L266.8,901.4 L268.0,901.2 L269.2,900.1 L270.4,899.9 L271.6,901.9 L272.8,899.7 L274.0,902.0 L275.2,899.5 L276.4,900.1 L277.6,900.4 L278.8,902.2 L280.0,899.5 L281.2,898.7 L282.5,901.0 L283.8,898.8 L285.0,898.1 L286.2,897.8 L287.5,898.2 L288.8,897.4 L290.0,897.1 L291.2,896.5 L292.5,897.5 L293.8,896.9 L295.0,896.3" stroke="#b6539f" stroke-width="4.2"/>
<path d="M262.0,901.5 L263.0,901.4 L264.0,901.3 L264.9,901.3 L265.9,901.2 L266.9,901.1 L267.9,901.0 L268.9,900.9 L269.9,900.8 L270.8,900.7 L271.8,900.6 L272.8,900.5 L273.8,900.3 L274.8,900.2 L275.8,900.1 L276.7,900.0 L277.7,899.8 L278.7,899.7 L279.7,899.5 L280.7,899.4 L281.7,899.2 L282.6,899.1 L283.6,898.9 L284.6,898.7 L285.6,898.5 L286.6,898.3 L287.6,898.1 L288.5,897.9 L289.5,897.7 L290.5,897.5 L291.5,897.2 L292.5,897.0 L293.5,896.7 L294.4,896.4 L295.4,896.1 L296.4,895.8 L297.4,895.5 L298.4,895.2 L299.4,894.9 L300.3,894.5 L301.3,894.1 L302.3,893.7 L303.3,893.3 L304.3,892.8 L305.3,892.4 L306.2,891.9 L307.2,891.4 L308.2,890.8 L309.2,890.2 L310.2,889.6 L311.2,889.0 L312.1,888.3 L313.1,887.5 L314.1,886.8 L315.1,885.9 L316.1,885.1 L317.1,884.1 L318.0,883.1 L319.0,882.0 L320.0,880.9 L320.2,880.6 L320.4,880.4 L320.6,880.1 L320.8,879.9 L321.0,879.6 L321.2,879.3 L321.4,879.1 L321.6,878.8 L321.8,878.5 L322.0,878.2 L322.2,877.9 L322.4,877.6 L322.6,877.3 L322.8,877.0 L323.0,876.7 L323.2,876.4 L323.4,876.1 L323.6,875.8 L323.8,875.4 L324.0,875.1 L324.2,874.8 L324.4,874.4 L324.6,874.1 L324.8,873.7 L325.0,873.3 L325.2,873.0 L325.4,872.6 L325.6,872.2 L325.8,871.8 L326.0,871.4 L326.2,871.0 L326.4,870.6 L326.6,870.1 L326.8,869.7 L327.0,869.2 L327.2,868.8 L327.4,868.3 L327.6,867.9 L327.8,867.4 L328.0,866.9 L328.2,866.4 L328.4,865.9 L328.6,865.4 L328.8,864.8 L329.0,864.3 L329.2,863.7 L329.4,863.2 L329.6,862.6 L329.8,862.0 L330.0,861.4 L330.2,860.8 L330.4,860.2 L330.6,859.6 L330.8,858.9 L331.0,858.3 L331.2,857.6 L331.4,856.9 L331.6,856.2 L331.8,855.5 L332.0,854.8 L332.2,854.0 L332.4,853.3 L332.6,852.5 L332.8,851.7 L333.0,850.9 L333.2,850.1 L333.4,849.2 L333.6,848.4 L333.8,847.5 L334.0,846.6 L334.2,845.7 L334.4,844.8 L334.6,843.8 L334.8,842.8 L335.0,841.9 L335.2,840.8 L335.4,839.8 L335.6,838.8 L335.8,837.7 L336.0,836.6 L336.2,835.5 L336.4,834.4 L336.6,833.3 L336.8,832.1 L337.0,830.9 L337.2,829.7 L337.4,828.4 L337.6,827.2 L337.8,825.9 L338.0,824.6 L338.2,823.3 L338.4,821.9 L338.6,820.6 L338.8,819.2 L339.0,817.7 L339.2,816.3 L339.4,814.8 L339.6,813.3 L339.8,811.8 L340.0,810.2 L340.2,808.7 L340.4,807.1 L340.6,805.4 L340.8,803.8 L341.0,802.1 L341.2,800.4 L341.4,798.7 L341.6,796.9 L341.8,795.2 L342.0,793.4 L342.2,791.5 L342.4,789.7 L342.6,787.8 L342.8,785.9 L343.0,783.9 L343.2,782.0 L343.4,780.0 L343.6,778.0 L343.8,776.0 L344.0,773.9 L344.2,771.8 L344.4,769.7 L344.6,767.6 L344.8,765.4 L345.0,763.2 L345.2,761.0 L345.4,758.8 L345.6,756.5 L345.8,754.2 L346.0,751.9 L346.2,749.6 L346.4,747.2 L346.6,744.9 L346.8,742.5 L347.0,740.1 L347.2,737.7 L347.4,735.2 L347.6,732.8 L347.8,730.3 L348.0,727.8 L348.2,725.3 L348.4,722.7 L348.6,720.2 L348.8,717.6 L349.0,715.1 L349.2,712.5 L349.4,709.9 L349.6,707.3 L349.8,704.7 L350.0,702.1 L350.2,699.5 L350.4,696.9 L350.6,694.2 L350.8,691.6 L351.0,689.0 L351.2,686.3 L351.4,683.7 L351.6,681.1 L351.8,678.5 L352.0,675.9 L352.2,673.3 L352.4,670.7 L352.6,668.1 L352.8,665.6 L353.0,663.0 L353.2,660.5 L353.4,658.0 L353.6,655.5 L353.8,653.1 L354.0,650.6 L354.2,648.2 L354.4,645.8 L354.6,643.5 L354.8,641.2 L355.0,638.9 L355.2,636.6 L355.4,634.4 L355.6,632.2 L355.8,630.1 L356.0,628.0 L356.2,626.0 L356.4,624.0 L356.6,622.1 L356.8,620.2 L357.0,618.3 L357.2,616.5 L357.4,614.8 L357.6,613.1 L357.8,611.5 L358.0,609.9 L358.2,608.4 L358.4,607.0 L358.6,605.6 L358.8,604.2 L359.0,603.0 L359.2,601.8 L359.4,600.6 L359.6,599.6 L359.8,598.6 L360.0,597.6 L360.2,596.7 L360.4,595.9 L360.6,595.1 L360.8,594.4 L361.0,593.8 L361.2,593.2 L361.4,592.7 L361.6,592.2 L361.8,591.8 L362.0,591.5 L362.2,591.1 L362.4,590.9 L362.6,590.7 L362.8,590.5 L363.0,590.4 L363.2,590.3 L363.4,590.3 L363.6,590.3 L363.8,590.3 L364.0,590.3 L364.2,590.3 L364.4,590.4 L364.6,590.5 L364.8,590.7 L365.0,590.8 L365.2,591.0 L365.4,591.3 L365.6,591.5 L365.8,591.8 L366.0,592.1 L366.2,592.4 L366.4,592.8 L366.6,593.2 L366.8,593.6 L367.0,594.0 L367.2,594.5 L367.4,595.0 L367.6,595.5 L367.8,596.0 L368.0,596.6 L368.2,597.2 L368.4,597.8 L368.6,598.5 L368.8,599.1 L369.0,599.8 L369.2,600.6 L369.4,601.3 L369.6,602.1 L369.8,602.9 L370.0,603.7 L370.2,604.5 L370.4,605.4 L370.6,606.2 L370.8,607.1 L371.0,608.1 L371.2,609.0 L371.4,610.0 L371.6,611.0 L371.8,612.0 L372.0,613.0 L372.2,614.1 L372.4,615.1 L372.6,616.2 L372.8,617.3 L373.0,618.4 L373.2,619.6 L373.4,620.7 L373.6,621.9 L373.8,623.1 L374.0,624.3 L374.2,625.5 L374.4,626.8 L374.6,628.0 L374.8,629.3 L375.0,630.6 L375.2,631.9 L375.4,633.2 L375.6,634.5 L375.8,635.8 L376.0,637.2 L376.2,638.6 L376.4,639.9 L376.6,641.3 L376.8,642.7 L377.0,644.1 L377.2,645.6 L377.4,647.0 L377.6,648.4 L377.8,649.9 L378.0,651.3 L378.2,652.8 L378.4,654.3 L378.6,655.8 L378.8,657.3 L379.0,658.8 L379.2,660.3 L379.4,661.8 L379.6,663.3 L379.8,664.9 L380.0,666.4 L380.2,668.0 L380.4,669.5 L380.6,671.1 L380.8,672.6 L381.0,674.2 L381.2,675.7 L381.4,677.3 L381.6,678.9 L381.8,680.5 L382.0,682.1 L382.2,683.6 L382.4,685.2 L382.6,686.8 L382.8,688.4 L383.0,690.0 L383.2,691.6 L383.4,693.2 L383.6,694.8 L383.8,696.4 L384.0,698.0 L384.2,699.6 L384.4,701.2 L384.6,702.8 L384.8,704.4 L385.0,706.0 L385.2,707.6 L385.4,709.2 L385.6,710.8 L385.8,712.4 L386.0,714.0 L386.2,715.5 L386.4,717.1 L386.6,718.7 L386.8,720.3 L387.0,721.9 L387.2,723.4 L387.4,725.0 L387.6,726.6 L387.8,728.1 L388.0,729.7 L388.2,731.3 L388.4,732.8 L388.6,734.4 L388.8,735.9 L389.0,737.4 L389.2,739.0 L389.4,740.5 L389.6,742.0 L389.8,743.5 L390.0,745.1 L390.2,746.6 L390.4,748.1 L390.6,749.6 L390.8,751.0 L391.0,752.5 L391.2,754.0 L391.4,755.5 L391.6,756.9 L391.8,758.4 L392.0,759.8 L392.2,761.3 L392.4,762.7 L392.6,764.1 L392.8,765.5 L393.0,767.0 L393.2,768.4 L393.4,769.8 L393.6,771.1 L393.8,772.5 L394.0,773.9 L394.2,775.3 L394.4,776.6 L394.6,778.0 L394.8,779.3 L395.0,780.6 L395.2,782.0 L395.4,783.3 L395.6,784.6 L395.8,785.9 L396.0,787.2 L396.2,788.4 L396.4,789.7 L396.6,791.0 L396.8,792.2 L397.0,793.5 L397.2,794.7 L397.4,795.9 L397.6,797.1 L397.8,798.3 L398.0,799.5 L398.2,800.7 L398.4,801.9 L398.6,803.1 L398.8,804.2 L399.0,805.4 L399.2,806.5 L399.4,807.7 L399.6,808.8 L399.8,809.9 L400.0,811.0 L400.2,812.1 L400.4,813.2 L400.6,814.2 L400.8,815.3 L401.0,816.4 L401.2,817.4 L401.4,818.4 L401.6,819.5 L401.8,820.5 L402.0,821.5 L402.2,822.5 L402.4,823.5 L402.6,824.4 L402.8,825.4 L403.0,826.4 L403.2,827.3 L403.4,828.3 L403.6,829.2 L403.8,830.1 L404.0,831.0 L404.2,831.9 L404.4,832.8 L404.6,833.7 L404.8,834.6 L405.0,835.4 L405.2,836.3 L405.4,837.1 L405.6,838.0 L405.8,838.8 L406.0,839.6 L406.2,840.4 L406.4,841.2 L406.6,842.0 L406.8,842.8 L407.0,843.6 L407.2,844.3 L407.4,845.1 L407.6,845.8 L407.8,846.6 L408.0,847.3 L408.2,848.0 L408.4,848.7 L408.6,849.5 L408.8,850.1 L409.0,850.8 L409.2,851.5 L409.4,852.2 L409.6,852.8 L409.8,853.5 L410.0,854.1 L410.2,854.8 L410.4,855.4 L410.6,856.0 L410.8,856.7 L411.0,857.3 L411.2,857.9 L411.4,858.4 L411.6,859.0 L411.8,859.6 L412.0,860.2 L412.2,860.7 L412.4,861.3 L412.6,861.8 L412.8,862.4 L413.0,862.9 L413.2,863.4 L413.4,863.9 L413.6,864.5 L413.8,865.0 L414.0,865.5 L414.2,865.9 L414.4,866.4 L414.6,866.9 L414.8,867.4 L415.0,867.8 L415.2,868.3 L415.4,868.7 L415.6,869.2 L415.8,869.6 L416.0,870.1 L416.2,870.5 L416.4,870.9 L416.6,871.3 L416.8,871.7 L417.0,872.1 L417.2,872.5 L417.4,872.9 L417.6,873.3 L417.8,873.7 L418.0,874.0 L418.2,874.4 L418.4,874.8 L418.6,875.1 L418.8,875.5 L419.0,875.8 L419.2,876.2 L419.4,876.5 L419.6,876.8 L419.8,877.1 L420.0,877.5 L420.2,877.8 L423.2,882.0 L426.2,885.3 L429.2,887.9 L432.1,889.9 L435.1,891.5 L438.1,892.8 L441.1,893.9 L444.1,894.7 L447.1,895.4 L450.0,896.0 L453.0,896.6 L456.0,897.0 L459.0,897.4 L462.0,897.8 L465.0,898.1 L468.0,898.4 L470.9,898.7 L473.9,898.9 L476.9,899.1 L479.9,899.3 L482.9,899.5 L485.9,899.7 L488.9,899.8 L491.8,900.0 L494.8,900.1 L497.8,900.2 L500.8,900.3 L503.8,900.5 L506.8,900.5 L509.7,900.6 L512.7,900.7 L515.7,900.8 L518.7,900.8 L521.7,900.9 L524.7,901.0 L527.7,901.0 L530.6,901.0 L533.6,901.1 L536.6,901.1 L539.6,901.1 L542.6,901.2 L545.6,901.2 L548.5,901.2 L551.5,901.2 L554.5,901.2 L557.5,901.2 L560.5,901.3 L563.5,901.3 L566.5,901.3 L569.4,901.3 L572.4,901.2 L575.4,901.2 L578.4,901.2 L581.4,901.2 L584.4,901.2 L587.3,901.2 L590.3,901.2 L593.3,901.2 L596.3,901.1 L599.3,901.1 L602.3,901.1 L605.3,901.1 L608.2,901.1 L611.2,901.0 L614.2,901.0 L617.2,901.0 L620.2,900.9 L623.2,900.9 L626.2,900.9 L629.1,900.8 L632.1,900.8 L635.1,900.8 L638.1,900.7 L641.1,900.7 L644.1,900.6 L647.0,900.6 L650.0,900.6 L653.0,900.5 L656.0,900.5" stroke="#b6539f" stroke-width="4.8"/>
<path d="M440.0,893.1 L441.2,893.6 L442.5,893.4 L443.7,894.8 L444.9,894.9 L446.1,894.8 L447.4,894.6 L448.6,894.9 L449.8,896.0 L451.0,896.2 L452.3,895.7 L453.5,896.6 L454.7,897.0 L456.0,896.9 L457.2,897.0 L458.4,897.2 L459.6,898.1 L460.9,897.7 L462.1,898.3 L463.3,898.4 L464.5,898.0 L465.8,898.2 L467.0,897.7 L468.2,897.7 L469.5,898.6 L470.7,898.6 L471.9,898.4 L473.1,898.3 L474.4,898.4 L475.6,898.6 L476.8,899.4 L478.0,899.3 L479.3,898.7 L480.5,899.0 L481.7,899.6 L483.0,899.2 L484.2,897.4 L485.4,900.2 L486.6,900.0 L487.9,899.0 L489.1,900.4 L490.3,899.7 L491.5,900.1 L492.8,899.7 L494.0,900.0 L495.2,899.9 L496.5,898.9 L497.7,899.8 L498.9,900.1 L500.1,899.8 L501.4,900.2 L502.6,898.5 L503.8,900.7 L505.0,899.8 L506.3,900.1 L507.5,900.0 L508.7,900.9 L510.0,901.3 L511.2,900.3 L512.4,900.0 L513.6,900.3 L514.9,901.2 L516.1,900.1 L517.3,900.4 L518.5,900.5 L519.8,898.0 L521.0,901.0 L522.2,900.8 L523.5,901.1 L524.7,901.3 L525.9,900.4 L527.1,901.5 L528.4,901.6 L529.6,901.2 L530.8,901.2 L532.0,901.1 L533.3,901.3 L534.5,901.7 L535.7,900.5 L537.0,901.8 L538.2,900.5 L539.4,900.6 L540.6,901.4 L541.9,900.7 L543.1,901.3 L544.3,901.8 L545.5,900.5 L546.8,900.5 L548.0,900.6 L549.2,901.6 L550.5,901.3 L551.7,900.8 L552.9,901.0 L554.1,901.6 L555.4,900.2 L556.6,901.4 L557.8,901.8 L559.0,900.7 L560.3,901.6 L561.5,900.6 L562.7,901.7 L564.0,901.3 L565.2,901.6 L566.4,900.9 L567.6,901.9 L568.9,900.7 L570.1,901.8 L571.3,901.1 L572.5,901.6 L573.8,901.8 L575.0,901.0 L576.2,901.1 L577.5,900.8 L578.7,900.8 L579.9,901.2 L581.1,901.3 L582.4,900.0 L583.6,901.3 L584.8,901.5 L586.0,900.6 L587.3,901.7 L588.5,901.6 L589.7,901.4 L591.0,901.3 L592.2,901.7 L593.4,901.7 L594.6,901.7 L595.9,901.3 L597.1,900.6 L598.3,900.9 L599.5,900.6 L600.8,900.6 L602.0,900.6 L603.2,900.9 L604.5,900.9 L605.7,900.5 L606.9,901.7 L608.1,901.3 L609.4,899.7 L610.6,901.7 L611.8,901.4 L613.0,901.6 L614.3,901.1 L615.5,901.1 L616.7,901.3 L618.0,900.4 L619.2,901.2 L620.4,901.1 L621.6,900.6 L622.9,900.8 L624.1,901.4 L625.3,900.6 L626.5,900.6 L627.8,901.5 L629.0,900.7 L630.2,901.3 L631.5,899.4 L632.7,900.8 L633.9,900.9 L635.1,901.4 L636.4,900.3 L637.6,901.4 L638.8,901.3 L640.0,900.4 L641.3,900.3 L642.5,901.3 L643.7,901.0 L645.0,900.3 L646.2,901.2 L647.4,901.0 L648.6,900.6 L649.9,900.2 L651.1,900.1 L652.3,899.9 L653.5,900.0 L654.8,901.2 L656.0,900.5" stroke="#b6539f" stroke-width="4.8"/>
<path d="M97.8,903.4 L99.0,903.7 L100.2,903.6 L101.5,902.4 L102.7,904.0 L103.9,902.0 L105.1,902.8 L106.3,901.9 L107.6,902.8 L108.8,903.7 L110.0,903.8 L111.2,903.5 L112.4,902.4 L113.7,902.7 L114.9,904.1 L116.1,902.9 L117.3,903.3 L118.5,902.7 L119.8,903.6 L121.0,904.0 L122.2,903.0 L123.4,901.0 L124.6,901.1 L125.9,903.0 L127.1,903.9 L128.3,903.0 L129.5,900.7 L130.7,902.4 L131.9,901.4 L133.2,903.1 L134.4,901.1 L135.6,904.1 L136.8,903.8 L138.0,904.1 L139.3,903.1 L140.5,901.3 L141.7,903.9 L142.9,902.5 L144.1,902.6 L145.4,903.6 L146.6,903.1 L147.8,903.4 L149.0,903.0 L150.2,902.6 L151.5,903.7 L152.7,899.8 L153.9,903.4 L155.1,902.9 L156.3,904.0 L157.6,900.4 L158.8,902.6 L160.0,904.0 L161.2,903.8 L162.4,903.6 L163.6,902.7 L164.8,902.7 L166.0,903.0 L167.2,904.2 L168.4,904.2 L169.7,903.3 L170.9,903.2 L172.1,903.1 L173.3,903.0 L174.5,904.1 L175.7,903.2 L176.9,902.5 L178.1,903.7 L179.3,902.9 L180.5,903.7 L181.7,903.4 L182.9,902.9 L184.1,902.7 L185.3,903.6 L186.6,902.7 L187.8,903.4 L189.0,902.2 L190.2,902.6 L191.4,903.0 L192.6,903.3 L193.8,902.7 L195.0,903.4 L196.2,902.7 L197.4,903.6 L198.6,903.8 L199.8,903.0 L201.0,902.3 L202.2,903.7 L203.4,903.2 L204.7,903.3 L205.9,903.4 L207.1,903.2 L208.3,903.1 L209.5,903.1 L210.7,902.0 L211.9,902.7 L213.1,902.3 L214.3,901.1 L215.5,901.0 L216.7,902.4 L217.9,900.3 L219.1,902.5 L220.3,902.9 L221.6,901.6 L222.8,902.3 L224.0,902.0 L225.2,900.2 L226.4,901.9 L227.6,902.3 L228.8,903.4 L230.0,902.5 L231.2,902.8 L232.5,901.9 L233.7,902.6 L234.9,903.3 L236.2,902.2 L237.4,899.4 L238.6,902.6 L239.8,902.5 L241.1,902.1 L242.3,901.7 L243.5,903.1 L244.8,903.0 L246.0,902.3 L247.2,903.0 L248.5,901.9 L249.7,902.9 L250.9,901.6 L252.2,901.3 L253.4,901.8 L254.6,902.4 L255.8,901.0 L257.1,901.4 L258.3,902.3 L259.5,901.3 L260.8,902.6 L262.0,901.9 L263.2,901.8 L264.4,899.3 L265.6,900.9 L266.8,900.9 L268.0,901.1 L269.2,900.6 L270.4,899.4 L271.6,900.5 L272.8,901.2 L274.0,899.5 L275.2,900.1 L276.4,900.5 L277.6,899.9 L278.8,899.6 L280.0,900.3 L281.2,899.1 L282.4,898.3 L283.5,899.2 L284.7,898.2 L285.9,899.0 L287.1,897.9 L288.2,897.7 L289.4,896.8 L290.6,896.2 L291.8,897.4 L292.9,894.4 L294.1,897.1 L295.3,893.6 L296.5,895.1 L297.6,896.2 L298.8,894.4 L300.0,895.5 L301.1,894.4 L302.1,892.9 L303.2,890.3 L304.3,889.4 L305.4,892.1 L306.4,890.4 L307.5,890.1 L308.6,889.8 L309.6,886.6 L310.7,887.9 L311.8,888.0 L312.9,887.4 L313.9,886.3 L315.0,886.1" stroke="#379566" stroke-width="6"/>
<path d="M262.0,901.7 L263.0,901.6 L264.0,901.5 L264.9,901.4 L265.9,901.4 L266.9,901.3 L267.9,901.2 L268.9,901.1 L269.9,901.0 L270.8,900.9 L271.8,900.8 L272.8,900.7 L273.8,900.5 L274.8,900.4 L275.8,900.3 L276.7,900.2 L277.7,900.0 L278.7,899.9 L279.7,899.8 L280.7,899.6 L281.7,899.4 L282.6,899.3 L283.6,899.1 L284.6,898.9 L285.6,898.7 L286.6,898.5 L287.6,898.3 L288.5,898.1 L289.5,897.9 L290.5,897.7 L291.5,897.4 L292.5,897.2 L293.5,896.9 L294.4,896.6 L295.4,896.3 L296.4,896.0 L297.4,895.7 L298.4,895.4 L299.4,895.0 L300.3,894.7 L301.3,894.3 L302.3,893.9 L303.3,893.4 L304.3,893.0 L305.3,892.5 L306.2,892.0 L307.2,891.5 L308.2,890.9 L309.2,890.3 L310.2,889.7 L311.2,889.1 L312.1,888.4 L313.1,887.6 L314.1,886.8 L315.1,886.0 L316.1,885.1 L317.1,884.2 L318.0,883.1 L319.0,882.0 L320.0,880.9 L320.2,880.6 L320.4,880.4 L320.6,880.1 L320.8,879.8 L321.0,879.6 L321.2,879.3 L321.4,879.0 L321.6,878.7 L321.8,878.4 L322.0,878.2 L322.2,877.9 L322.4,877.6 L322.6,877.3 L322.8,876.9 L323.0,876.6 L323.2,876.3 L323.4,876.0 L323.6,875.7 L323.8,875.3 L324.0,875.0 L324.2,874.6 L324.4,874.3 L324.6,873.9 L324.8,873.5 L325.0,873.2 L325.2,872.8 L325.4,872.4 L325.6,872.0 L325.8,871.6 L326.0,871.2 L326.2,870.7 L326.4,870.3 L326.6,869.9 L326.8,869.4 L327.0,869.0 L327.2,868.5 L327.4,868.1 L327.6,867.6 L327.8,867.1 L328.0,866.6 L328.2,866.1 L328.4,865.6 L328.6,865.0 L328.8,864.5 L329.0,864.0 L329.2,863.4 L329.4,862.8 L329.6,862.3 L329.8,861.7 L330.0,861.1 L330.2,860.5 L330.4,859.8 L330.6,859.2 L330.8,858.5 L331.0,857.9 L331.2,857.2 L331.4,856.5 L331.6,855.8 L331.8,855.1 L332.0,854.4 L332.2,853.6 L332.4,852.9 L332.6,852.1 L332.8,851.3 L333.0,850.5 L333.2,849.7 L333.4,848.8 L333.6,848.0 L333.8,847.1 L334.0,846.2 L334.2,845.3 L334.4,844.4 L334.6,843.5 L334.8,842.5 L335.0,841.6 L335.2,840.6 L335.4,839.6 L335.6,838.6 L335.8,837.5 L336.0,836.5 L336.2,835.4 L336.4,834.3 L336.6,833.2 L336.8,832.0 L337.0,830.9 L337.2,829.7 L337.4,828.5 L337.6,827.3 L337.8,826.0 L338.0,824.8 L338.2,823.5 L338.4,822.2 L338.6,820.9 L338.8,819.5 L339.0,818.2 L339.2,816.8 L339.4,815.4 L339.6,813.9 L339.8,812.5 L340.0,811.0 L340.2,809.5 L340.4,808.0 L340.6,806.4 L340.8,804.9 L341.0,803.3 L341.2,801.7 L341.4,800.0 L341.6,798.4 L341.8,796.7 L342.0,795.0 L342.2,793.3 L342.4,791.5 L342.6,789.7 L342.8,787.9 L343.0,786.1 L343.2,784.3 L343.4,782.4 L343.6,780.5 L343.8,778.6 L344.0,776.6 L344.2,774.7 L344.4,772.7 L344.6,770.7 L344.8,768.7 L345.0,766.6 L345.2,764.6 L345.4,762.5 L345.6,760.4 L345.8,758.2 L346.0,756.1 L346.2,753.9 L346.4,751.7 L346.6,749.5 L346.8,747.3 L347.0,745.0 L347.2,742.8 L347.4,740.5 L347.6,738.2 L347.8,735.9 L348.0,733.5 L348.2,731.2 L348.4,728.8 L348.6,726.4 L348.8,724.1 L349.0,721.7 L349.2,719.2 L349.4,716.8 L349.6,714.4 L349.8,711.9 L350.0,709.5 L350.2,707.0 L350.4,704.6 L350.6,702.1 L350.8,699.6 L351.0,697.2 L351.2,694.7 L351.4,692.2 L351.6,689.7 L351.8,687.2 L352.0,684.8 L352.2,682.3 L352.4,679.8 L352.6,677.4 L352.8,674.9 L353.0,672.5 L353.2,670.1 L353.4,667.7 L353.6,665.3 L353.8,662.9 L354.0,660.5 L354.2,658.2 L354.4,655.8 L354.6,653.5 L354.8,651.2 L355.0,649.0 L355.2,646.8 L355.4,644.6 L355.6,642.4 L355.8,640.2 L356.0,638.1 L356.2,636.1 L356.4,634.0 L356.6,632.1 L356.8,630.1 L357.0,628.2 L357.2,626.3 L357.4,624.5 L357.6,622.7 L357.8,621.0 L358.0,619.3 L358.2,617.7 L358.4,616.1 L358.6,614.6 L358.8,613.1 L359.0,611.7 L359.2,610.3 L359.4,609.0 L359.6,607.8 L359.8,606.6 L360.0,605.4 L360.2,604.4 L360.4,603.4 L360.6,602.4 L360.8,601.5 L361.0,600.7 L361.2,599.9 L361.4,599.2 L361.6,598.5 L361.8,597.9 L362.0,597.3 L362.2,596.8 L362.4,596.4 L362.6,596.0 L362.8,595.7 L363.0,595.4 L363.2,595.2 L363.4,595.0 L363.6,594.9 L363.8,594.8 L364.0,594.7 L364.2,594.7 L364.4,594.7 L364.6,594.8 L364.8,595.0 L365.0,595.3 L365.2,595.7 L365.4,596.1 L365.6,596.5 L365.8,597.0 L366.0,597.5 L366.2,598.1 L366.4,598.7 L366.6,599.3 L366.8,600.0 L367.0,600.7 L367.2,601.4 L367.4,602.2 L367.6,603.0 L367.8,603.8 L368.0,604.6 L368.2,605.5 L368.4,606.4 L368.6,607.3 L368.8,608.3 L369.0,609.2 L369.2,610.2 L369.4,611.2 L369.6,612.2 L369.8,613.3 L370.0,614.3 L370.2,615.4 L370.4,616.5 L370.6,617.6 L370.8,618.8 L371.0,619.9 L371.2,621.1 L371.4,622.3 L371.6,623.5 L371.8,624.7 L372.0,625.9 L372.2,627.2 L372.4,628.4 L372.6,629.7 L372.8,631.0 L373.0,632.3 L373.2,633.6 L373.4,634.9 L373.6,636.2 L373.8,637.5 L374.0,638.9 L374.2,640.2 L374.4,641.6 L374.6,643.0 L374.8,644.4 L375.0,645.7 L375.2,647.1 L375.4,648.6 L375.6,650.0 L375.8,651.4 L376.0,652.8 L376.2,654.2 L376.4,655.7 L376.6,657.1 L376.8,658.6 L377.0,660.0 L377.2,661.5 L377.4,663.0 L377.6,664.4 L377.8,665.9 L378.0,667.4 L378.2,668.9 L378.4,670.3 L378.6,671.8 L378.8,673.3 L379.0,674.8 L379.2,676.3 L379.4,677.8 L379.6,679.3 L379.8,680.8 L380.0,682.3 L380.2,683.8 L380.4,685.3 L380.6,686.8 L380.8,688.3 L381.0,689.8 L381.2,691.3 L381.4,692.8 L381.6,694.3 L381.8,695.8 L382.0,697.3 L382.2,698.8 L382.4,700.3 L382.6,701.8 L382.8,703.3 L383.0,704.8 L383.2,706.3 L383.4,707.8 L383.6,709.3 L383.8,710.8 L384.0,712.3 L384.2,713.8 L384.4,715.2 L384.6,716.7 L384.8,718.2 L385.0,719.7 L385.2,721.1 L385.4,722.6 L385.6,724.1 L385.8,725.5 L386.0,727.0 L386.2,728.4 L386.4,729.9 L386.6,731.3 L386.8,732.7 L387.0,734.2 L387.2,735.6 L387.4,737.0 L387.6,738.4 L387.8,739.9 L388.0,741.3 L388.2,742.7 L388.4,744.1 L388.6,745.5 L388.8,746.8 L389.0,748.2 L389.2,749.6 L389.4,751.0 L389.6,752.3 L389.8,753.7 L390.0,755.1 L390.2,756.4 L390.4,757.7 L390.6,759.1 L390.8,760.4 L391.0,761.7 L391.2,763.1 L391.4,764.4 L391.6,765.7 L391.8,767.0 L392.0,768.3 L392.2,769.5 L392.4,770.8 L392.6,772.1 L392.8,773.4 L393.0,774.6 L393.2,775.9 L393.4,777.1 L393.6,778.3 L393.8,779.6 L394.0,780.8 L394.2,782.0 L394.4,783.2 L394.6,784.4 L394.8,785.6 L395.0,786.8 L395.2,788.0 L395.4,789.1 L395.6,790.3 L395.8,791.5 L396.0,792.6 L396.2,793.8 L396.4,794.9 L396.6,796.0 L396.8,797.1 L397.0,798.2 L397.2,799.4 L397.4,800.5 L397.6,801.5 L397.8,802.6 L398.0,803.7 L398.2,804.8 L398.4,805.8 L398.6,806.9 L398.8,807.9 L399.0,809.0 L399.2,810.0 L399.4,811.0 L399.6,812.0 L399.8,813.0 L400.0,814.0 L400.2,815.0 L400.4,816.0 L400.6,817.0 L400.8,817.9 L401.0,818.9 L401.2,819.9 L401.4,820.8 L401.6,821.7 L401.8,822.7 L402.0,823.6 L402.2,824.5 L402.4,825.4 L402.6,826.3 L402.8,827.2 L403.0,828.1 L403.2,829.0 L403.4,829.9 L403.6,830.7 L403.8,831.6 L404.0,832.4 L404.2,833.3 L404.4,834.1 L404.6,834.9 L404.8,835.7 L405.0,836.6 L405.2,837.4 L405.4,838.2 L405.6,839.0 L405.8,839.7 L406.0,840.5 L406.2,841.3 L406.4,842.1 L406.6,842.8 L406.8,843.6 L407.0,844.3 L407.2,845.0 L407.4,845.8 L407.6,846.5 L407.8,847.2 L408.0,847.9 L408.2,848.6 L408.4,849.3 L408.6,850.0 L408.8,850.7 L409.0,851.3 L409.2,852.0 L409.4,852.7 L409.6,853.3 L409.8,854.0 L410.0,854.6 L410.2,855.3 L410.4,855.9 L410.6,856.5 L410.8,857.1 L411.0,857.7 L411.2,858.3 L411.4,858.9 L411.6,859.5 L411.8,860.1 L412.0,860.7 L412.2,861.3 L412.4,861.8 L412.6,862.4 L412.8,862.9 L413.0,863.5 L413.2,864.0 L413.4,864.6 L413.6,865.1 L413.8,865.6 L414.0,866.2 L414.2,866.7 L414.4,867.2 L414.6,867.7 L414.8,868.2 L415.0,868.7 L415.2,869.2 L415.4,869.7 L415.6,870.1 L415.8,870.6 L416.0,871.1 L416.2,871.5 L416.4,872.0 L416.6,872.4 L416.8,872.9 L417.0,873.3 L417.2,873.8 L417.4,874.2 L417.6,874.6 L417.8,875.0 L418.0,875.4 L418.2,875.9 L418.4,876.3 L418.6,876.7 L418.8,877.1 L419.0,877.5 L419.2,877.8 L419.4,878.2 L419.6,878.6 L419.8,879.0 L420.0,879.4 L420.2,879.7 L423.2,884.7 L426.2,888.8 L429.2,892.2 L432.1,894.9 L435.1,897.2 L438.1,899.0 L441.1,900.4 L444.1,901.6 L447.1,902.5 L450.0,903.2 L453.0,903.8 L456.0,904.2 L459.0,904.6 L462.0,904.8 L465.0,905.1 L468.0,905.2 L470.9,905.4 L473.9,905.5 L476.9,905.5 L479.9,905.6 L482.9,905.7 L485.9,905.7 L488.9,905.7 L491.8,905.8 L494.8,905.8 L497.8,905.8 L500.8,905.8 L503.8,905.8 L506.8,905.8 L509.7,905.8 L512.7,905.8 L515.7,905.8 L518.7,905.8 L521.7,905.8 L524.7,905.8 L527.7,905.7 L530.6,905.7 L533.6,905.7 L536.6,905.7 L539.6,905.7 L542.6,905.7 L545.6,905.6 L548.5,905.6 L551.5,905.6 L554.5,905.6 L557.5,905.5 L560.5,905.5 L563.5,905.5 L566.5,905.4 L569.4,905.4 L572.4,905.4 L575.4,905.3 L578.4,905.3 L581.4,905.2 L584.4,905.2 L587.3,905.2 L590.3,905.1 L593.3,905.1 L596.3,905.0 L599.3,905.0 L602.3,904.9 L605.3,904.9 L608.2,904.8 L611.2,904.8 L614.2,904.7 L617.2,904.7 L620.2,904.6 L623.2,904.6 L626.2,904.5 L629.1,904.5 L632.1,904.4 L635.1,904.3 L638.1,904.3 L641.1,904.2 L644.1,904.2 L647.0,904.1 L650.0,904.0 L653.0,904.0 L656.0,903.9" stroke="#379566" stroke-width="5.6"/>
<path d="M261.9,901.8 L262.9,901.6 L263.1,901.5 L265.7,900.4 L264.9,902.2 L265.7,902.5 L268.3,901.5 L267.6,900.7 L269.2,899.8 L270.7,901.8 L272.2,900.8 L272.7,900.1 L275.1,901.4 L274.3,899.7 L274.6,901.0 L277.6,899.9 L278.6,898.7 L279.8,899.8 L279.4,898.6 L281.4,898.2 L282.9,900.1 L282.0,896.2 L282.8,899.3 L283.8,899.5 L286.0,897.7 L285.8,897.9 L288.3,897.8 L287.8,897.9 L289.9,896.9 L289.8,897.0 L291.0,896.7 L292.7,896.5 L293.1,896.8 L294.4,896.8 L294.6,895.4 L297.2,895.4 L298.0,896.9 L299.5,896.4 L299.2,891.6 L299.7,895.2 L302.2,894.5 L301.5,893.9 L303.4,894.3 L303.7,894.1 L304.0,891.9 L305.1,891.2 L307.4,890.5 L309.2,892.2 L309.7,890.6 L309.0,888.5 L311.7,888.7 L312.1,889.0 L314.4,886.5 L314.7,887.9 L315.6,886.8 L315.7,885.6 L318.0,883.9 L319.0,883.3 L318.7,882.3 L318.9,881.2 L321.2,881.2 L321.0,880.6 L321.5,879.0 L319.6,880.1 L320.3,880.1 L321.5,880.4 L320.1,878.5 L320.8,877.9 L322.2,878.3 L321.6,878.6 L322.0,878.7 L323.4,877.3 L322.1,876.3 L323.7,877.9 L324.2,876.1 L323.1,875.7 L323.2,876.3 L323.1,876.5 L323.7,872.0 L322.8,875.5 L323.7,875.0 L324.3,873.0 L323.9,871.4 L324.7,873.9 L325.8,874.3 L324.4,872.7 L324.1,872.3 L324.8,871.4 L326.3,871.6 L326.7,870.9 L327.3,869.7 L327.0,869.4 L326.9,871.0 L327.0,870.4 L328.2,868.9 L326.4,869.1 L327.8,868.6 L328.6,868.8 L327.9,867.8 L329.1,867.5 L327.1,865.9 L329.1,863.5 L327.5,865.8 L328.4,865.3 L328.1,864.0 L330.1,863.9 L329.4,863.5 L329.7,861.7 L330.2,861.7 L330.2,860.6 L331.1,861.5 L331.3,861.0 L330.8,858.4 L330.8,856.4 L331.0,857.6 L331.4,857.2 L330.3,856.6 L332.8,856.9 L331.7,854.1 L332.8,855.4 L331.7,852.8 L333.5,851.9 L331.4,851.3 L333.3,850.8 L333.3,849.5" stroke="#379566" stroke-width="3"/>
<path d="M407.8,850.7 L408.2,851.4 L408.9,851.8 L408.5,851.9 L410.0,853.4 L410.1,854.9 L410.6,855.4 L409.7,854.8 L409.7,857.2 L409.6,855.8 L410.2,856.1 L410.8,858.5 L410.9,858.3 L411.9,860.0 L410.6,859.5 L411.8,860.6 L410.9,858.3 L412.2,861.4 L411.6,861.1 L413.9,863.3 L414.0,862.9 L412.5,863.4 L413.0,862.6 L414.3,863.8 L414.2,864.9 L412.9,863.4 L414.8,866.7 L414.5,866.4 L414.4,868.4 L414.0,868.8 L415.5,869.0 L416.0,869.7 L415.9,869.9 L416.0,868.5 L415.5,868.9 L416.2,870.9 L417.2,871.5 L416.6,871.7 L416.1,873.3 L417.1,873.1 L415.6,873.2 L416.4,872.6 L416.9,872.7 L418.5,874.3 L418.8,874.8 L418.2,874.3 L418.7,874.3 L417.3,875.8 L418.4,874.2 L418.4,876.7 L418.5,876.5 L419.2,876.9 L418.7,876.6 L418.2,877.3 L419.3,879.6 L418.6,880.3 L418.9,880.4 L420.1,880.9 L423.2,885.8 L426.1,890.0 L429.4,891.2 L432.0,892.8 L434.1,897.0 L438.0,898.3 L440.9,901.1 L445.4,902.7 L446.4,901.5 L450.8,903.5 L452.4,904.3 L456.3,904.6 L458.2,903.9 L463.1,905.7 L464.4,904.9 L466.9,905.1 L471.4,905.5 L473.6,905.4 L476.5,906.2 L478.8,904.6 L483.2,906.4 L485.7,905.1 L488.5,906.1 L491.4,905.9 L495.9,905.6 L496.8,906.6 L501.0,905.8 L503.3,906.0 L507.2,904.7 L510.3,906.3 L511.8,905.4 L515.4,904.8 L518.9,906.9 L522.8,905.6 L524.2,905.3 L528.8,906.8 L530.3,905.4 L533.4,905.4 L536.8,906.5 L540.5,905.8 L543.3,906.6 L544.3,905.7 L548.7,906.8 L552.3,904.4 L555.3,902.6 L558.5,904.4 L559.6,906.1 L562.8,904.7 L566.5,906.1 L569.0,906.6 L572.4,905.5 L576.0,906.4 L579.2,905.7 L582.2,906.1 L585.6,905.6 L587.9,905.9 L590.1,904.2 L594.6,904.8 L595.5,904.8 L600.5,903.8 L601.3,905.3 L604.4,903.7 L608.5,905.6 L610.4,904.1 L614.8,905.0 L616.4,904.1 L620.9,904.1 L624.0,904.5 L627.2,905.6 L629.3,905.6 L631.4,903.2 L635.9,904.0 L638.1,903.7 L641.5,902.3 L643.7,904.9 L647.3,903.2 L649.6,903.4 L653.1,904.3 L655.4,904.0" stroke="#379566" stroke-width="3"/>
<path d="M430.0,893.5 L431.1,893.6 L432.2,893.3 L433.3,894.7 L434.3,895.2 L435.4,895.6 L436.5,897.0 L437.6,897.2 L438.7,897.2 L439.8,898.9 L440.9,899.5 L442.0,900.2 L443.0,899.4 L444.1,901.3 L445.2,900.6 L446.3,902.2 L447.4,903.4 L448.6,902.2 L449.9,902.7 L451.1,903.8 L452.4,903.5 L453.6,904.0 L454.8,902.8 L456.1,904.0 L457.3,904.1 L458.6,904.8 L459.8,903.7 L461.0,904.2 L462.3,904.7 L463.5,904.4 L464.8,903.2 L466.0,904.2 L467.3,905.9 L468.5,904.8 L469.7,905.0 L471.0,904.5 L472.2,905.8 L473.5,906.2 L474.7,906.3 L475.9,905.7 L477.2,905.4 L478.4,906.1 L479.7,905.5 L480.9,905.4 L482.2,906.1 L483.4,905.6 L484.6,903.9 L485.9,905.8 L487.1,905.3 L488.4,906.5 L489.6,905.5 L490.8,905.9 L492.1,905.7 L493.3,905.1 L494.6,905.4 L495.8,905.4 L497.1,906.6 L498.3,905.6 L499.5,905.5 L500.8,905.8 L502.0,906.6 L503.3,904.9 L504.5,902.8 L505.7,905.1 L507.0,905.5 L508.2,906.4 L509.5,905.2 L510.7,906.0 L512.0,906.3 L513.2,905.8 L514.4,905.1 L515.7,905.1 L516.9,906.0 L518.2,906.0 L519.4,905.1 L520.6,905.7 L521.9,906.0 L523.1,905.1 L524.4,905.0 L525.6,906.5 L526.9,906.5 L528.1,906.1 L529.3,905.1 L530.6,906.5 L531.8,906.2 L533.1,905.3 L534.3,904.9 L535.5,906.6 L536.8,906.5 L538.0,906.3 L539.3,906.5 L540.5,905.3 L541.8,906.2 L543.0,904.5 L544.2,902.9 L545.5,906.1 L546.7,906.0 L548.0,904.8 L549.2,904.9 L550.5,905.5 L551.7,904.8 L552.9,903.8 L554.2,904.9 L555.4,904.9 L556.7,905.3 L557.9,905.0 L559.1,906.2 L560.4,904.9 L561.6,905.0 L562.9,906.0 L564.1,904.9 L565.4,905.2 L566.6,905.2 L567.8,905.5 L569.1,905.8 L570.3,905.9 L571.6,905.7 L572.8,904.7 L574.0,905.1 L575.3,904.5 L576.5,904.6 L577.8,904.6 L579.0,904.4 L580.3,905.8 L581.5,905.4 L582.7,904.9 L584.0,905.6 L585.2,904.6 L586.5,904.5 L587.7,903.6 L588.9,905.6 L590.2,905.5 L591.4,904.7 L592.7,904.5 L593.9,905.6 L595.2,904.5 L596.4,904.6 L597.6,905.4 L598.9,905.4 L600.1,905.5 L601.4,903.6 L602.6,904.2 L603.8,904.1 L605.1,905.7 L606.3,904.3 L607.6,904.0 L608.8,903.9 L610.1,904.1 L611.3,904.4 L612.5,904.6 L613.8,905.6 L615.0,904.9 L616.3,904.9 L617.5,904.3 L618.7,905.3 L620.0,904.5 L621.2,904.7 L622.5,905.1 L623.7,903.9 L625.0,904.5 L626.2,904.6 L627.4,905.0 L628.7,905.1 L629.9,903.8 L631.2,905.1 L632.4,904.1 L633.6,903.7 L634.9,905.0 L636.1,903.4 L637.4,903.5 L638.6,904.7 L639.9,903.5 L641.1,903.5 L642.3,904.8 L643.6,905.0 L644.8,904.6 L646.1,903.9 L647.3,904.7 L648.5,904.7 L649.8,904.6 L651.0,903.3 L652.3,904.2 L653.5,903.3 L654.8,903.2 L656.0,903.9" stroke="#379566" stroke-width="6"/>
</g>
<g stroke="#333" stroke-width="1.8" stroke-dasharray="8.8 6.42" stroke-dashoffset="4.5">
<path d="M239.1,59 V911"/>
<path d="M279.7,59 V911"/>
<path d="M344.8,59 V911"/>
<path d="M434.5,59 V911"/>
<path d="M528.1,59 V911"/>
</g>
<g stroke="#111" fill="none">
<path d="M68.2,59.6 H656.6" stroke-width="1.9"/>
<path d="M656.6,59.6 V911.5" stroke-width="2"/>
<path d="M68.2,59.6 V915" stroke-width="2"/>
<path d="M62,492.3 H656.6" stroke-width="2.4"/>
<path d="M62,67.9 H68" stroke-width="1.8"/>
<path d="M62,152.7 H68" stroke-width="1.8"/>
<path d="M62,237.4 H68" stroke-width="1.8"/>
<path d="M62,322.1 H68" stroke-width="1.8"/>
<path d="M62,406.9 H68" stroke-width="1.8"/>
</g>
<g stroke="#111" fill="none">
<path d="M68.2,911 H656.6" stroke-width="1.7"/>
<path d="M62,576.1 H68" stroke-width="1.7"/>
<path d="M62,660.0 H68" stroke-width="1.7"/>
<path d="M62,743.8 H68" stroke-width="1.7"/>
<path d="M62,827.7 H68" stroke-width="1.7"/>
<path d="M62,911.6 H68" stroke-width="1.7"/>
<path d="M68.2,911 V916" stroke-width="1.6"/>
<path d="M271.8,911 V916" stroke-width="1.6"/>
<path d="M475.6,911 V916" stroke-width="1.6"/>
</g>
<g stroke="#111" fill="none">
<path d="M63.6,972.3 H516.2" stroke-width="1.8"/>
<path d="M63.6,1043.0 H516.2" stroke-width="1.8"/>
<path d="M63.6,1113.7 H516.2" stroke-width="1.8"/>
<path d="M63.6,1184.4 H516.2" stroke-width="1.8"/>
<path d="M63.6,1255.1 H516.2" stroke-width="1.8"/>
<path d="M63.6,1325.8 H516.2" stroke-width="1.8"/>
<path d="M63.6,1396.5 H516.2" stroke-width="2.2"/>
<path d="M67.8,972.3 V1400" stroke-width="2.2"/>
<path d="M516.2,971.3 V1400" stroke-width="2.2"/>
<path d="M68.0,1396.5 V1400.5" stroke-width="1.5"/>
<path d="M157.6,1396.5 V1400.5" stroke-width="1.5"/>
<path d="M247.3,1396.5 V1400.5" stroke-width="1.5"/>
<path d="M336.9,1396.5 V1400.5" stroke-width="1.5"/>
<path d="M426.6,1396.5 V1400.5" stroke-width="1.5"/>
<path d="M516.2,1396.5 V1400.5" stroke-width="1.5"/>
</g>
<rect x="506.7" y="77.5" width="137.3" height="95.1" fill="#fff" stroke="#111" stroke-width="1.6"/>
<path d="M517.5,93.2 H553.1" stroke="#2b2c7a" stroke-width="5" stroke-linecap="round"/>
<path d="M517.5,124.8 H553.1" stroke="#b6539f" stroke-width="5" stroke-linecap="round"/>
<path d="M517.5,156.5 H553.1" stroke="#379566" stroke-width="5" stroke-linecap="round"/>
<text x="561.86" y="98.92" style="font-family:'Liberation Sans',sans-serif;font-size:17.89px" fill="#111" textLength="74.06" lengthAdjust="spacingAndGlyphs">10 mg/ml</text>
<text x="562.54" y="130.02" style="font-family:'Liberation Sans',sans-serif;font-size:18.45px" fill="#111" textLength="63.64" lengthAdjust="spacingAndGlyphs">4 mg/ml</text>
<text x="562.16" y="161.82" style="font-family:'Liberation Sans',sans-serif;font-size:18.45px" fill="#111" textLength="64.03" lengthAdjust="spacingAndGlyphs">1 mg/ml</text>
<rect x="506.7" y="518.8" width="137.3" height="99.2" fill="#fff" stroke="#111" stroke-width="1.6"/>
<path d="M521.6,535.2 H556.6" stroke="#2b2c7a" stroke-width="5" stroke-linecap="round"/>
<path d="M521.6,568.5 H556.6" stroke="#b6539f" stroke-width="5" stroke-linecap="round"/>
<path d="M521.6,601.2 H556.6" stroke="#379566" stroke-width="5" stroke-linecap="round"/>
<text x="565.44" y="541.22" style="font-family:'Liberation Sans',sans-serif;font-size:17.61px" fill="#111" textLength="69.91" lengthAdjust="spacingAndGlyphs">10 mg/ml</text>
<text x="562.54" y="574.52" style="font-family:'Liberation Sans',sans-serif;font-size:17.89px" fill="#111" textLength="63.84" lengthAdjust="spacingAndGlyphs">4 mg/ml</text>
<text x="565.43" y="607.52" style="font-family:'Liberation Sans',sans-serif;font-size:17.89px" fill="#111" textLength="60.90" lengthAdjust="spacingAndGlyphs">1 mg/ml</text>
<path d="M68.00,1325.80 C68.15,1325.15 68.30,1324.50 68.45,1323.85 C68.60,1323.20 68.72,1322.67 68.90,1321.92 C69.14,1320.86 69.49,1319.37 69.79,1318.12 C70.09,1316.87 70.34,1315.84 70.69,1314.40 C71.18,1312.39 71.88,1309.57 72.48,1307.19 C73.07,1304.87 73.61,1302.79 74.27,1300.29 C75.07,1297.30 75.99,1293.90 76.96,1290.45 C78.06,1286.59 79.33,1282.21 80.55,1278.21 C81.72,1274.36 82.79,1270.95 84.14,1266.88 C85.72,1262.11 87.68,1256.40 89.51,1251.38 C91.27,1246.59 92.92,1242.26 94.89,1237.42 C97.06,1232.12 99.61,1226.18 102.06,1220.85 C104.40,1215.80 106.64,1211.18 109.23,1206.23 C111.99,1200.98 114.98,1195.54 118.20,1190.21 C121.54,1184.68 125.12,1179.09 128.96,1173.66 C132.88,1168.11 136.92,1162.72 141.50,1157.27 C146.43,1151.42 151.97,1145.32 157.64,1139.75 C163.33,1134.16 169.12,1128.97 175.57,1123.80 C182.49,1118.26 190.02,1112.79 197.98,1107.68 C206.40,1102.28 215.44,1097.14 224.87,1092.36 C234.81,1087.32 245.34,1082.67 256.24,1078.35 C267.70,1073.81 279.41,1069.78 292.10,1065.87 C306.13,1061.56 321.24,1057.56 336.92,1053.88 C353.97,1049.87 372.04,1046.30 390.70,1043.00 C410.77,1039.45 432.51,1036.28 453.45,1033.48 C474.34,1030.69 495.28,1028.64 516.20,1026.22" fill="none" stroke="#ed7d31" stroke-width="2.6"/>
<path d="M68.00,1325.80 C68.15,1324.57 68.30,1323.34 68.45,1322.12 C68.60,1320.91 68.72,1319.91 68.90,1318.51 C69.14,1316.56 69.49,1313.82 69.79,1311.52 C70.09,1309.26 70.33,1307.39 70.69,1304.80 C71.18,1301.24 71.87,1296.27 72.48,1292.13 C73.07,1288.14 73.60,1284.61 74.27,1280.40 C75.07,1275.46 75.97,1269.90 76.96,1264.32 C78.05,1258.25 79.31,1251.45 80.55,1245.33 C81.71,1239.58 82.76,1234.55 84.14,1228.65 C85.70,1221.93 87.64,1213.99 89.51,1207.14 C91.24,1200.81 92.88,1195.16 94.89,1188.96 C97.03,1182.36 99.57,1175.09 102.06,1168.69 C104.36,1162.79 106.60,1157.48 109.23,1151.89 C111.96,1146.10 114.93,1140.20 118.20,1134.53 C121.50,1128.80 125.08,1123.10 128.96,1117.68 C132.84,1112.24 136.89,1107.07 141.50,1101.96 C146.40,1096.54 151.96,1091.05 157.64,1086.14 C163.31,1081.24 169.12,1076.84 175.57,1072.55 C182.49,1067.94 190.05,1063.55 197.98,1059.53 C206.42,1055.25 215.47,1051.35 224.87,1047.77 C234.84,1043.97 245.38,1040.61 256.24,1037.51 C267.74,1034.23 279.44,1031.43 292.10,1028.74 C306.16,1025.75 321.27,1023.07 336.92,1020.62 C354.00,1017.94 372.07,1015.63 390.70,1013.51 C410.79,1011.21 432.53,1009.22 453.45,1007.46 C474.36,1005.71 495.28,1004.47 516.20,1002.97" fill="none" stroke="#5b9bd5" stroke-width="2.6"/>
<g stroke="#8a8a8a" stroke-width="1.4" fill="none">
<path d="M85.9,1302.0 V1339.5 M82.3,1302.0 H89.5 M82.3,1339.5 H89.5"/>
<path d="M103.9,1303.9 V1334.6 M100.3,1303.9 H107.5 M100.3,1334.6 H107.5"/>
<path d="M121.8,1313.1 V1355.3 M118.2,1313.1 H125.4 M118.2,1355.3 H125.4"/>
<path d="M157.6,1310.6 V1348.0 M154.0,1310.6 H161.2 M154.0,1348.0 H161.2"/>
<path d="M202.5,1305.5 V1338.3 M198.9,1305.5 H206.1 M198.9,1338.3 H206.1"/>
<path d="M247.3,1307.0 V1336.0 M243.7,1307.0 H250.9 M243.7,1336.0 H250.9"/>
<path d="M336.9,1327.5 V1356.0 M333.3,1327.5 H340.5 M333.3,1356.0 H340.5"/>
<path d="M77.0,1302.3 V1339.4 M73.4,1302.3 H80.6 M73.4,1339.4 H80.6"/>
<path d="M85.9,1302.3 V1334.6 M82.3,1302.3 H89.5 M82.3,1334.6 H89.5"/>
<path d="M103.9,1309.7 V1339.4 M100.3,1309.7 H107.5 M100.3,1339.4 H107.5"/>
<path d="M121.8,1330.0 V1355.3 M118.2,1330.0 H125.4 M118.2,1355.3 H125.4"/>
<path d="M157.6,1341.5 V1356.8 M154.0,1341.5 H161.2 M154.0,1356.8 H161.2"/>
<path d="M202.5,1305.5 V1322.0 M198.9,1305.5 H206.1 M198.9,1322.0 H206.1"/>
<path d="M247.3,1304.0 V1341.5 M243.7,1304.0 H250.9 M243.7,1341.5 H250.9"/>
<path d="M336.9,1333.0 V1356.0 M333.3,1333.0 H340.5 M333.3,1356.0 H340.5"/>
<path d="M68.0,1333.6 V1340.4 M64.4,1333.6 H71.6 M64.4,1340.4 H71.6"/>
<path d="M85.9,1257.6 V1277.3 M82.3,1257.6 H89.5 M82.3,1277.3 H89.5"/>
<path d="M94.9,1249.0 V1264.0 M91.3,1249.0 H98.5 M91.3,1264.0 H98.5"/>
<path d="M112.8,1198.5 V1229.7 M109.2,1198.5 H116.4 M109.2,1229.7 H116.4"/>
<path d="M139.7,1157.0 V1183.3 M136.1,1157.0 H143.3 M136.1,1183.3 H143.3"/>
<path d="M202.5,1121.8 V1138.8 M198.9,1121.8 H206.1 M198.9,1138.8 H206.1"/>
<path d="M336.9,1044.0 V1080.3 M333.3,1044.0 H340.5 M333.3,1080.3 H340.5"/>
<path d="M471.4,1018.0 V1040.0 M467.8,1018.0 H475.0 M467.8,1040.0 H475.0"/>
<path d="M70.7,1270.0 V1290.0 M67.1,1270.0 H74.3 M67.1,1290.0 H74.3"/>
<path d="M77.0,1262.0 V1278.0 M73.4,1262.0 H80.6 M73.4,1278.0 H80.6"/>
<path d="M85.9,1224.0 V1233.5 M82.3,1224.0 H89.5 M82.3,1233.5 H89.5"/>
<path d="M94.9,1177.3 V1202.4 M91.3,1177.3 H98.5 M91.3,1202.4 H98.5"/>
<path d="M112.8,1145.0 V1150.5 M109.2,1145.0 H116.4 M109.2,1150.5 H116.4"/>
<path d="M139.7,1087.3 V1097.0 M136.1,1087.3 H143.3 M136.1,1097.0 H143.3"/>
<path d="M202.5,1043.6 V1068.6 M198.9,1043.6 H206.1 M198.9,1068.6 H206.1"/>
<path d="M336.9,1021.8 V1035.8 M333.3,1021.8 H340.5 M333.3,1035.8 H340.5"/>
<path d="M471.4,1009.2 V1017.8 M467.8,1009.2 H475.0 M467.8,1017.8 H475.0"/>
</g>
<circle cx="68.0" cy="1324.7" r="3.8" fill="#a5a5a5"/>
<circle cx="77.0" cy="1325.8" r="3.8" fill="#a5a5a5"/>
<circle cx="85.9" cy="1326.9" r="3.8" fill="#a5a5a5"/>
<circle cx="103.9" cy="1325.8" r="3.8" fill="#a5a5a5"/>
<circle cx="121.8" cy="1325.8" r="3.8" fill="#a5a5a5"/>
<circle cx="157.6" cy="1329.3" r="3.8" fill="#a5a5a5"/>
<circle cx="202.5" cy="1324.4" r="3.8" fill="#a5a5a5"/>
<circle cx="247.3" cy="1324.4" r="3.8" fill="#a5a5a5"/>
<circle cx="336.9" cy="1336.4" r="3.8" fill="#a5a5a5"/>
<circle cx="68.0" cy="1317.7" r="3.8" fill="#ffc000"/>
<circle cx="77.0" cy="1321.9" r="3.8" fill="#ffc000"/>
<circle cx="85.9" cy="1317.7" r="3.8" fill="#ffc000"/>
<circle cx="103.9" cy="1321.9" r="3.8" fill="#ffc000"/>
<circle cx="121.8" cy="1339.9" r="3.8" fill="#ffc000"/>
<circle cx="157.6" cy="1348.8" r="3.8" fill="#ffc000"/>
<circle cx="202.5" cy="1313.1" r="3.8" fill="#ffc000"/>
<circle cx="247.3" cy="1322.6" r="3.8" fill="#ffc000"/>
<circle cx="336.9" cy="1344.9" r="3.8" fill="#ffc000"/>
<circle cx="68.0" cy="1327.9" r="3.8" fill="#ed7d31"/>
<circle cx="70.7" cy="1300.7" r="3.8" fill="#ed7d31"/>
<circle cx="77.0" cy="1292.9" r="3.8" fill="#ed7d31"/>
<circle cx="85.9" cy="1267.5" r="3.8" fill="#ed7d31"/>
<circle cx="94.9" cy="1256.9" r="3.8" fill="#ed7d31"/>
<circle cx="112.8" cy="1214.1" r="3.8" fill="#ed7d31"/>
<circle cx="139.7" cy="1170.6" r="3.8" fill="#ed7d31"/>
<circle cx="202.5" cy="1130.3" r="3.8" fill="#ed7d31"/>
<circle cx="336.9" cy="1063.5" r="3.8" fill="#ed7d31"/>
<circle cx="471.4" cy="1029.2" r="3.8" fill="#ed7d31"/>
<circle cx="66.7" cy="1300.0" r="3.8" fill="#5b9bd5"/>
<circle cx="70.7" cy="1282.0" r="3.8" fill="#5b9bd5"/>
<circle cx="77.0" cy="1270.7" r="3.8" fill="#5b9bd5"/>
<circle cx="85.9" cy="1228.9" r="3.8" fill="#5b9bd5"/>
<circle cx="94.9" cy="1190.1" r="3.8" fill="#5b9bd5"/>
<circle cx="112.8" cy="1147.6" r="3.8" fill="#5b9bd5"/>
<circle cx="139.7" cy="1092.5" r="3.8" fill="#5b9bd5"/>
<circle cx="202.5" cy="1055.7" r="3.8" fill="#5b9bd5"/>
<circle cx="336.9" cy="1029.2" r="3.8" fill="#5b9bd5"/>
<circle cx="471.4" cy="1023.6" r="3.8" fill="#5b9bd5"/>
<circle cx="535.9" cy="1015.5" r="5.3" fill="#ed7d31"/>
<circle cx="535.9" cy="1065.8" r="5.3" fill="#a5a5a5"/>
<circle cx="535.9" cy="1112.4" r="5.3" fill="#ffc000"/>
<circle cx="535.9" cy="1162.3" r="5.3" fill="#5b9bd5"/>
<text x="25.38" y="73.71" style="font-family:'Liberation Sans',sans-serif;font-size:19.44px" fill="#111" textLength="32.36" lengthAdjust="spacingAndGlyphs">100</text>
<text x="36.05" y="158.46" style="font-family:'Liberation Sans',sans-serif;font-size:19.44px" fill="#111" textLength="21.58" lengthAdjust="spacingAndGlyphs">80</text>
<text x="36.05" y="243.21" style="font-family:'Liberation Sans',sans-serif;font-size:19.44px" fill="#111" textLength="21.58" lengthAdjust="spacingAndGlyphs">60</text>
<text x="36.05" y="327.96" style="font-family:'Liberation Sans',sans-serif;font-size:19.44px" fill="#111" textLength="21.58" lengthAdjust="spacingAndGlyphs">40</text>
<text x="36.05" y="412.71" style="font-family:'Liberation Sans',sans-serif;font-size:19.44px" fill="#111" textLength="21.58" lengthAdjust="spacingAndGlyphs">20</text>
<text x="0.06" y="84.00" style="font-family:'Liberation Sans',sans-serif;font-weight:bold;font-size:27.54px" fill="#111" textLength="17.89" lengthAdjust="spacingAndGlyphs">A</text>
<text x="76.91" y="83.80" style="font-family:'Liberation Sans',sans-serif;font-style:italic;font-size:20.72px" fill="#111" textLength="27.93" lengthAdjust="spacingAndGlyphs">Ce</text>
<text x="104.23" y="84.00" style="font-family:'Liberation Sans',sans-serif;font-size:20.71px" fill="#111" textLength="55.83" lengthAdjust="spacingAndGlyphs">SAS-6</text>
<text x="159.95" y="89.30" style="font-family:'Liberation Sans',sans-serif;font-size:14.93px" fill="#111" textLength="38.96" lengthAdjust="spacingAndGlyphs">N-CC</text>
<text transform="translate(20.00,462.40) rotate(-90)" x="-1.93" y="0" style="font-family:'Liberation Sans',sans-serif;font-size:22.90px" fill="#111" textLength="353.77" lengthAdjust="spacingAndGlyphs">Relative UV absorbance, 280 nm</text>
<text transform="translate(239.00,52.50) rotate(-90)" x="-0.17" y="0" style="font-family:'Liberation Sans',sans-serif;font-size:18.31px" fill="#111" textLength="32.68" lengthAdjust="spacingAndGlyphs">Void</text>
<text transform="translate(279.80,52.50) rotate(-90)" x="-0.77" y="0" style="font-family:'Liberation Sans',sans-serif;font-size:18.31px" fill="#111" textLength="49.05" lengthAdjust="spacingAndGlyphs">67 kDa</text>
<text transform="translate(345.30,52.50) rotate(-90)" x="-0.31" y="0" style="font-family:'Liberation Sans',sans-serif;font-size:18.31px" fill="#111" textLength="48.38" lengthAdjust="spacingAndGlyphs">43 kDa</text>
<text transform="translate(434.90,52.50) rotate(-90)" x="-1.26" y="0" style="font-family:'Liberation Sans',sans-serif;font-size:18.31px" fill="#111" textLength="49.93" lengthAdjust="spacingAndGlyphs">14 kDa</text>
<text transform="translate(528.10,52.30) rotate(-90)" x="-0.77" y="0" style="font-family:'Liberation Sans',sans-serif;font-size:18.31px" fill="#111" textLength="52.91" lengthAdjust="spacingAndGlyphs">6.5 kDa</text>
<text x="37.83" y="582.28" style="font-family:'Liberation Sans',sans-serif;font-size:19.72px" fill="#111" textLength="19.32" lengthAdjust="spacingAndGlyphs">80</text>
<text x="37.83" y="666.16" style="font-family:'Liberation Sans',sans-serif;font-size:19.72px" fill="#111" textLength="19.32" lengthAdjust="spacingAndGlyphs">60</text>
<text x="37.83" y="750.04" style="font-family:'Liberation Sans',sans-serif;font-size:19.72px" fill="#111" textLength="19.32" lengthAdjust="spacingAndGlyphs">40</text>
<text x="37.83" y="833.92" style="font-family:'Liberation Sans',sans-serif;font-size:19.72px" fill="#111" textLength="19.32" lengthAdjust="spacingAndGlyphs">20</text>
<text x="47.56" y="917.80" style="font-family:'Liberation Sans',sans-serif;font-size:19.72px" fill="#111" textLength="9.66" lengthAdjust="spacingAndGlyphs">0</text>
<text x="63.53" y="937.10" style="font-family:'Liberation Sans',sans-serif;font-size:20.14px" fill="#111" textLength="9.86" lengthAdjust="spacingAndGlyphs">3</text>
<text x="267.13" y="937.10" style="font-family:'Liberation Sans',sans-serif;font-size:20.14px" fill="#111" textLength="9.86" lengthAdjust="spacingAndGlyphs">8</text>
<text x="465.61" y="937.10" style="font-family:'Liberation Sans',sans-serif;font-size:20.14px" fill="#111" textLength="19.71" lengthAdjust="spacingAndGlyphs">13</text>
<text x="0.34" y="524.20" style="font-family:'Liberation Sans',sans-serif;font-weight:bold;font-size:27.39px" fill="#111" textLength="16.10" lengthAdjust="spacingAndGlyphs">B</text>
<text x="76.91" y="524.00" style="font-family:'Liberation Sans',sans-serif;font-style:italic;font-size:19.42px" fill="#111" textLength="27.93" lengthAdjust="spacingAndGlyphs">Ce</text>
<text x="104.23" y="524.20" style="font-family:'Liberation Sans',sans-serif;font-size:19.43px" fill="#111" textLength="55.83" lengthAdjust="spacingAndGlyphs">SAS-6</text>
<text x="159.95" y="529.30" style="font-family:'Liberation Sans',sans-serif;font-size:13.91px" fill="#111" textLength="38.96" lengthAdjust="spacingAndGlyphs">N-CC</text>
<text x="77.32" y="554.10" style="font-family:'Liberation Sans',sans-serif;font-size:19.72px" fill="#111" textLength="98.53" lengthAdjust="spacingAndGlyphs">Δ103-130</text>
<text transform="translate(20.00,886.70) rotate(-90)" x="-1.81" y="0" style="font-family:'Liberation Sans',sans-serif;font-size:22.90px" fill="#111" textLength="331.15" lengthAdjust="spacingAndGlyphs">Relative UV absorbance, 280 nm</text>
<text x="269.13" y="957.80" style="font-family:'Liberation Sans',sans-serif;font-size:21.45px" fill="#111" textLength="204.14" lengthAdjust="spacingAndGlyphs">Retention volume (ml)</text>
<text x="47.57" y="975.39" style="font-family:'Liberation Sans',sans-serif;font-size:20.56px" fill="#111" textLength="11.15" lengthAdjust="spacingAndGlyphs">1</text>
<text x="30.93" y="1046.09" style="font-family:'Liberation Sans',sans-serif;font-size:20.56px" fill="#111" textLength="27.87" lengthAdjust="spacingAndGlyphs">0.8</text>
<text x="30.93" y="1116.79" style="font-family:'Liberation Sans',sans-serif;font-size:20.56px" fill="#111" textLength="27.87" lengthAdjust="spacingAndGlyphs">0.6</text>
<text x="30.53" y="1187.49" style="font-family:'Liberation Sans',sans-serif;font-size:20.56px" fill="#111" textLength="27.87" lengthAdjust="spacingAndGlyphs">0.4</text>
<text x="30.93" y="1258.19" style="font-family:'Liberation Sans',sans-serif;font-size:20.56px" fill="#111" textLength="27.87" lengthAdjust="spacingAndGlyphs">0.2</text>
<text x="47.37" y="1328.89" style="font-family:'Liberation Sans',sans-serif;font-size:20.56px" fill="#111" textLength="11.15" lengthAdjust="spacingAndGlyphs">0</text>
<text x="24.12" y="1399.59" style="font-family:'Liberation Sans',sans-serif;font-size:20.56px" fill="#111" textLength="34.54" lengthAdjust="spacingAndGlyphs">-0.2</text>
<text x="63.17" y="1419.59" style="font-family:'Liberation Sans',sans-serif;font-size:20.99px" fill="#111" textLength="11.38" lengthAdjust="spacingAndGlyphs">0</text>
<text x="141.05" y="1419.59" style="font-family:'Liberation Sans',sans-serif;font-size:20.99px" fill="#111" textLength="34.14" lengthAdjust="spacingAndGlyphs">100</text>
<text x="230.99" y="1419.59" style="font-family:'Liberation Sans',sans-serif;font-size:20.99px" fill="#111" textLength="34.14" lengthAdjust="spacingAndGlyphs">200</text>
<text x="320.73" y="1419.59" style="font-family:'Liberation Sans',sans-serif;font-size:20.99px" fill="#111" textLength="34.14" lengthAdjust="spacingAndGlyphs">300</text>
<text x="410.58" y="1419.59" style="font-family:'Liberation Sans',sans-serif;font-size:20.99px" fill="#111" textLength="34.14" lengthAdjust="spacingAndGlyphs">400</text>
<text x="500.01" y="1419.59" style="font-family:'Liberation Sans',sans-serif;font-size:20.99px" fill="#111" textLength="34.14" lengthAdjust="spacingAndGlyphs">500</text>
<text x="0.23" y="996.72" style="font-family:'Liberation Sans',sans-serif;font-weight:bold;font-size:28.17px" fill="#111" textLength="15.78" lengthAdjust="spacingAndGlyphs">C</text>
<text transform="translate(20.60,1251.30) rotate(-90)" x="-1.85" y="0" style="font-family:'Liberation Sans',sans-serif;font-size:22.90px" fill="#111" textLength="151.83" lengthAdjust="spacingAndGlyphs">Fraction Dimer</text>
<text x="161.61" y="1449.10" style="font-family:'Liberation Sans',sans-serif;font-size:21.88px" fill="#111" textLength="283.51" lengthAdjust="spacingAndGlyphs">Protein Concentration (µM)</text>
<text x="229.56" y="1002.90" style="font-family:'Liberation Sans',sans-serif;font-size:16.23px" fill="#111" textLength="120.18" lengthAdjust="spacingAndGlyphs">K<tspan font-size="11.69px" dy="3.6">d</tspan><tspan dy="-3.6"> = 48 ± 4 µM</tspan></text>
<text x="268.54" y="1099.00" style="font-family:'Liberation Sans',sans-serif;font-size:17.83px" fill="#111" textLength="132.03" lengthAdjust="spacingAndGlyphs">K<tspan font-size="12.83px" dy="3.9">d</tspan><tspan dy="-3.9"> = 106 ± 9 µM</tspan></text>
<text x="547.30" y="1022.70" style="font-family:'Liberation Sans',sans-serif;font-size:22.61px" fill="#111" textLength="33.74" lengthAdjust="spacingAndGlyphs">WT</text>
<text x="546.21" y="1072.08" style="font-family:'Liberation Sans',sans-serif;font-size:21.97px" fill="#111" textLength="100.16" lengthAdjust="spacingAndGlyphs">Δ103-130</text>
<text x="546.06" y="1121.20" style="font-family:'Liberation Sans',sans-serif;font-size:22.32px" fill="#111" textLength="56.36" lengthAdjust="spacingAndGlyphs">I154E</text>
<text x="545.88" y="1170.57" style="font-family:'Liberation Sans',sans-serif;font-size:22.82px" fill="#111" textLength="61.28" lengthAdjust="spacingAndGlyphs">S123E</text>
</svg></body></html>
